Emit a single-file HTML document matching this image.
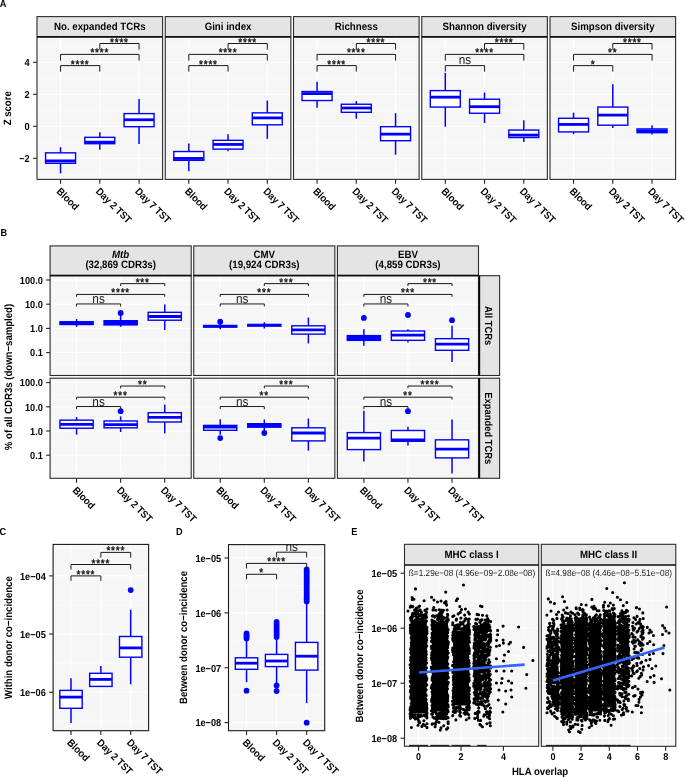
<!DOCTYPE html>
<html><head><meta charset="utf-8"><style>
html,body{margin:0;padding:0;background:#fff;}
svg{display:block;font-family:"Liberation Sans", sans-serif;text-rendering:geometricPrecision;will-change:transform;}
</style></head><body>
<svg width="685" height="777" viewBox="0 0 685 777">
<rect width="685" height="777" fill="#fff"/>
<text x="0" y="0" transform="translate(-0.3,6.7) scale(1,1.1)" font-size="9.2" font-weight="bold" text-anchor="start" fill="#000">A</text>
<rect x="37" y="37.7" width="125.6" height="141.7" fill="#f6f6f6"/>
<line x1="37" y1="174.3" x2="162.6" y2="174.3" stroke="#fff" stroke-width="0.5"/>
<line x1="37" y1="142.3" x2="162.6" y2="142.3" stroke="#fff" stroke-width="0.5"/>
<line x1="37" y1="110.3" x2="162.6" y2="110.3" stroke="#fff" stroke-width="0.5"/>
<line x1="37" y1="78.3" x2="162.6" y2="78.3" stroke="#fff" stroke-width="0.5"/>
<line x1="37" y1="46.3" x2="162.6" y2="46.3" stroke="#fff" stroke-width="0.5"/>
<line x1="37" y1="158.3" x2="162.6" y2="158.3" stroke="#fff" stroke-width="1"/>
<line x1="37" y1="126.3" x2="162.6" y2="126.3" stroke="#fff" stroke-width="1"/>
<line x1="37" y1="94.3" x2="162.6" y2="94.3" stroke="#fff" stroke-width="1"/>
<line x1="37" y1="62.3" x2="162.6" y2="62.3" stroke="#fff" stroke-width="1"/>
<line x1="60.55" y1="37.7" x2="60.55" y2="179.4" stroke="#fff" stroke-width="1"/>
<line x1="99.8" y1="37.7" x2="99.8" y2="179.4" stroke="#fff" stroke-width="1"/>
<line x1="139.05" y1="37.7" x2="139.05" y2="179.4" stroke="#fff" stroke-width="1"/>
<rect x="37" y="16.6" width="125.6" height="20.3" fill="#e4e4e4"/>
<text x="0" y="0" transform="translate(99.8,29.9) scale(1,1.1)" font-size="9.7" font-weight="bold" text-anchor="middle" fill="#000">No. expanded TCRs</text>
<line x1="60.55" y1="147.24" x2="60.55" y2="152.84" stroke="#0000ff" stroke-width="1.5"/>
<line x1="60.55" y1="163.31" x2="60.55" y2="173.4" stroke="#0000ff" stroke-width="1.5"/>
<rect x="45.55" y="152.84" width="30" height="10.46" fill="#fff" stroke="#0000ff" stroke-width="1.4"/>
<line x1="45.55" y1="160.88" x2="75.55" y2="160.88" stroke="#0000ff" stroke-width="2.8"/>
<line x1="99.8" y1="132.29" x2="99.8" y2="137.34" stroke="#0000ff" stroke-width="1.5"/>
<line x1="99.8" y1="143.69" x2="99.8" y2="149.67" stroke="#0000ff" stroke-width="1.5"/>
<rect x="84.8" y="137.34" width="30" height="6.35" fill="#fff" stroke="#0000ff" stroke-width="1.4"/>
<line x1="84.8" y1="142.19" x2="114.8" y2="142.19" stroke="#0000ff" stroke-width="2.8"/>
<line x1="139.05" y1="99.03" x2="139.05" y2="113.61" stroke="#0000ff" stroke-width="1.5"/>
<line x1="139.05" y1="126.69" x2="139.05" y2="143.88" stroke="#0000ff" stroke-width="1.5"/>
<rect x="124.05" y="113.61" width="30" height="13.08" fill="#fff" stroke="#0000ff" stroke-width="1.4"/>
<line x1="124.05" y1="119.77" x2="154.05" y2="119.77" stroke="#0000ff" stroke-width="2.8"/>
<clipPath id="c1"><rect x="37" y="37.7" width="125.6" height="141.7"/></clipPath><g clip-path="url(#c1)">
<path d="M60.55,71.6V65.6H99.8V71.6" fill="none" stroke="#1a1a1a" stroke-width="1"/>
<text x="0" y="0" transform="translate(80.17,67.6) scale(1,1.1)" font-size="10" font-weight="normal" text-anchor="middle" fill="#1a1a1a" letter-spacing="0.8" stroke="#1a1a1a" stroke-width="0.4">****</text>
<path d="M60.55,60.6V54.4H139.05V60.6" fill="none" stroke="#1a1a1a" stroke-width="1"/>
<text x="0" y="0" transform="translate(99.8,56.4) scale(1,1.1)" font-size="10" font-weight="normal" text-anchor="middle" fill="#1a1a1a" letter-spacing="0.8" stroke="#1a1a1a" stroke-width="0.4">****</text>
<path d="M99.8,49.7V43.5H139.05V49.7" fill="none" stroke="#1a1a1a" stroke-width="1"/>
<text x="0" y="0" transform="translate(119.42,45.5) scale(1,1.1)" font-size="10" font-weight="normal" text-anchor="middle" fill="#1a1a1a" letter-spacing="0.8" stroke="#1a1a1a" stroke-width="0.4">****</text>
</g>
<rect x="37" y="16.6" width="125.6" height="162.8" fill="none" stroke="#2b2b2b" stroke-width="1.1"/>
<line x1="37" y1="36.8" x2="162.6" y2="36.8" stroke="#0a0a0a" stroke-width="1.8"/>
<line x1="60.55" y1="179.4" x2="60.55" y2="183.8" stroke="#222222" stroke-width="1.1"/>
<line x1="99.8" y1="179.4" x2="99.8" y2="183.8" stroke="#222222" stroke-width="1.1"/>
<line x1="139.05" y1="179.4" x2="139.05" y2="183.8" stroke="#222222" stroke-width="1.1"/>
<text x="0" y="0" transform="translate(56.05,192) rotate(45) scale(1,1.1)" font-size="9.4" font-weight="bold" text-anchor="start" fill="#000">Blood</text>
<text x="0" y="0" transform="translate(95.3,192) rotate(45) scale(1,1.1)" font-size="9.4" font-weight="bold" text-anchor="start" fill="#000">Day 2 TST</text>
<text x="0" y="0" transform="translate(134.55,192) rotate(45) scale(1,1.1)" font-size="9.4" font-weight="bold" text-anchor="start" fill="#000">Day 7 TST</text>
<rect x="165.25" y="37.7" width="125.6" height="141.7" fill="#f6f6f6"/>
<line x1="165.25" y1="174.3" x2="290.85" y2="174.3" stroke="#fff" stroke-width="0.5"/>
<line x1="165.25" y1="142.3" x2="290.85" y2="142.3" stroke="#fff" stroke-width="0.5"/>
<line x1="165.25" y1="110.3" x2="290.85" y2="110.3" stroke="#fff" stroke-width="0.5"/>
<line x1="165.25" y1="78.3" x2="290.85" y2="78.3" stroke="#fff" stroke-width="0.5"/>
<line x1="165.25" y1="46.3" x2="290.85" y2="46.3" stroke="#fff" stroke-width="0.5"/>
<line x1="165.25" y1="158.3" x2="290.85" y2="158.3" stroke="#fff" stroke-width="1"/>
<line x1="165.25" y1="126.3" x2="290.85" y2="126.3" stroke="#fff" stroke-width="1"/>
<line x1="165.25" y1="94.3" x2="290.85" y2="94.3" stroke="#fff" stroke-width="1"/>
<line x1="165.25" y1="62.3" x2="290.85" y2="62.3" stroke="#fff" stroke-width="1"/>
<line x1="188.8" y1="37.7" x2="188.8" y2="179.4" stroke="#fff" stroke-width="1"/>
<line x1="228.05" y1="37.7" x2="228.05" y2="179.4" stroke="#fff" stroke-width="1"/>
<line x1="267.3" y1="37.7" x2="267.3" y2="179.4" stroke="#fff" stroke-width="1"/>
<rect x="165.25" y="16.6" width="125.6" height="20.3" fill="#e4e4e4"/>
<text x="0" y="0" transform="translate(228.05,29.9) scale(1,1.1)" font-size="9.7" font-weight="bold" text-anchor="middle" fill="#000">Gini index</text>
<line x1="188.8" y1="143.5" x2="188.8" y2="151.54" stroke="#0000ff" stroke-width="1.5"/>
<line x1="188.8" y1="160.32" x2="188.8" y2="171.16" stroke="#0000ff" stroke-width="1.5"/>
<rect x="173.8" y="151.54" width="30" height="8.78" fill="#fff" stroke="#0000ff" stroke-width="1.4"/>
<line x1="173.8" y1="158.45" x2="203.8" y2="158.45" stroke="#0000ff" stroke-width="2.8"/>
<line x1="228.05" y1="134.16" x2="228.05" y2="140.33" stroke="#0000ff" stroke-width="1.5"/>
<line x1="228.05" y1="149.11" x2="228.05" y2="151.35" stroke="#0000ff" stroke-width="1.5"/>
<rect x="213.05" y="140.33" width="30" height="8.78" fill="#fff" stroke="#0000ff" stroke-width="1.4"/>
<line x1="213.05" y1="144.44" x2="243.05" y2="144.44" stroke="#0000ff" stroke-width="2.8"/>
<line x1="267.3" y1="100.53" x2="267.3" y2="112.86" stroke="#0000ff" stroke-width="1.5"/>
<line x1="267.3" y1="124.82" x2="267.3" y2="138.83" stroke="#0000ff" stroke-width="1.5"/>
<rect x="252.3" y="112.86" width="30" height="11.96" fill="#fff" stroke="#0000ff" stroke-width="1.4"/>
<line x1="252.3" y1="117.9" x2="282.3" y2="117.9" stroke="#0000ff" stroke-width="2.8"/>
<clipPath id="c2"><rect x="165.25" y="37.7" width="125.6" height="141.7"/></clipPath><g clip-path="url(#c2)">
<path d="M188.8,71.6V65.6H228.05V71.6" fill="none" stroke="#1a1a1a" stroke-width="1"/>
<text x="0" y="0" transform="translate(208.42,67.6) scale(1,1.1)" font-size="10" font-weight="normal" text-anchor="middle" fill="#1a1a1a" letter-spacing="0.8" stroke="#1a1a1a" stroke-width="0.4">****</text>
<path d="M188.8,60.6V54.4H267.3V60.6" fill="none" stroke="#1a1a1a" stroke-width="1"/>
<text x="0" y="0" transform="translate(228.05,56.4) scale(1,1.1)" font-size="10" font-weight="normal" text-anchor="middle" fill="#1a1a1a" letter-spacing="0.8" stroke="#1a1a1a" stroke-width="0.4">****</text>
<path d="M228.05,49.7V43.5H267.3V49.7" fill="none" stroke="#1a1a1a" stroke-width="1"/>
<text x="0" y="0" transform="translate(247.67,45.5) scale(1,1.1)" font-size="10" font-weight="normal" text-anchor="middle" fill="#1a1a1a" letter-spacing="0.8" stroke="#1a1a1a" stroke-width="0.4">****</text>
</g>
<rect x="165.25" y="16.6" width="125.6" height="162.8" fill="none" stroke="#2b2b2b" stroke-width="1.1"/>
<line x1="165.25" y1="36.8" x2="290.85" y2="36.8" stroke="#0a0a0a" stroke-width="1.8"/>
<line x1="188.8" y1="179.4" x2="188.8" y2="183.8" stroke="#222222" stroke-width="1.1"/>
<line x1="228.05" y1="179.4" x2="228.05" y2="183.8" stroke="#222222" stroke-width="1.1"/>
<line x1="267.3" y1="179.4" x2="267.3" y2="183.8" stroke="#222222" stroke-width="1.1"/>
<text x="0" y="0" transform="translate(184.3,192) rotate(45) scale(1,1.1)" font-size="9.4" font-weight="bold" text-anchor="start" fill="#000">Blood</text>
<text x="0" y="0" transform="translate(223.55,192) rotate(45) scale(1,1.1)" font-size="9.4" font-weight="bold" text-anchor="start" fill="#000">Day 2 TST</text>
<text x="0" y="0" transform="translate(262.8,192) rotate(45) scale(1,1.1)" font-size="9.4" font-weight="bold" text-anchor="start" fill="#000">Day 7 TST</text>
<rect x="293.5" y="37.7" width="125.6" height="141.7" fill="#f6f6f6"/>
<line x1="293.5" y1="174.3" x2="419.1" y2="174.3" stroke="#fff" stroke-width="0.5"/>
<line x1="293.5" y1="142.3" x2="419.1" y2="142.3" stroke="#fff" stroke-width="0.5"/>
<line x1="293.5" y1="110.3" x2="419.1" y2="110.3" stroke="#fff" stroke-width="0.5"/>
<line x1="293.5" y1="78.3" x2="419.1" y2="78.3" stroke="#fff" stroke-width="0.5"/>
<line x1="293.5" y1="46.3" x2="419.1" y2="46.3" stroke="#fff" stroke-width="0.5"/>
<line x1="293.5" y1="158.3" x2="419.1" y2="158.3" stroke="#fff" stroke-width="1"/>
<line x1="293.5" y1="126.3" x2="419.1" y2="126.3" stroke="#fff" stroke-width="1"/>
<line x1="293.5" y1="94.3" x2="419.1" y2="94.3" stroke="#fff" stroke-width="1"/>
<line x1="293.5" y1="62.3" x2="419.1" y2="62.3" stroke="#fff" stroke-width="1"/>
<line x1="317.05" y1="37.7" x2="317.05" y2="179.4" stroke="#fff" stroke-width="1"/>
<line x1="356.3" y1="37.7" x2="356.3" y2="179.4" stroke="#fff" stroke-width="1"/>
<line x1="395.55" y1="37.7" x2="395.55" y2="179.4" stroke="#fff" stroke-width="1"/>
<rect x="293.5" y="16.6" width="125.6" height="20.3" fill="#e4e4e4"/>
<text x="0" y="0" transform="translate(356.3,29.9) scale(1,1.1)" font-size="9.7" font-weight="bold" text-anchor="middle" fill="#000">Richness</text>
<line x1="317.05" y1="81.84" x2="317.05" y2="91.56" stroke="#0000ff" stroke-width="1.5"/>
<line x1="317.05" y1="100.53" x2="317.05" y2="107.63" stroke="#0000ff" stroke-width="1.5"/>
<rect x="302.05" y="91.56" width="30" height="8.97" fill="#fff" stroke="#0000ff" stroke-width="1.4"/>
<line x1="302.05" y1="93.61" x2="332.05" y2="93.61" stroke="#0000ff" stroke-width="2.8"/>
<line x1="356.3" y1="101.09" x2="356.3" y2="104.26" stroke="#0000ff" stroke-width="1.5"/>
<line x1="356.3" y1="112.3" x2="356.3" y2="118.65" stroke="#0000ff" stroke-width="1.5"/>
<rect x="341.3" y="104.26" width="30" height="8.03" fill="#fff" stroke="#0000ff" stroke-width="1.4"/>
<line x1="341.3" y1="108" x2="371.3" y2="108" stroke="#0000ff" stroke-width="2.8"/>
<line x1="395.55" y1="113.23" x2="395.55" y2="126.69" stroke="#0000ff" stroke-width="1.5"/>
<line x1="395.55" y1="140.7" x2="395.55" y2="154.71" stroke="#0000ff" stroke-width="1.5"/>
<rect x="380.55" y="126.69" width="30" height="14.01" fill="#fff" stroke="#0000ff" stroke-width="1.4"/>
<line x1="380.55" y1="134.16" x2="410.55" y2="134.16" stroke="#0000ff" stroke-width="2.8"/>
<clipPath id="c3"><rect x="293.5" y="37.7" width="125.6" height="141.7"/></clipPath><g clip-path="url(#c3)">
<path d="M317.05,71.6V65.6H356.3V71.6" fill="none" stroke="#1a1a1a" stroke-width="1"/>
<text x="0" y="0" transform="translate(336.68,67.6) scale(1,1.1)" font-size="10" font-weight="normal" text-anchor="middle" fill="#1a1a1a" letter-spacing="0.8" stroke="#1a1a1a" stroke-width="0.4">****</text>
<path d="M317.05,60.6V54.4H395.55V60.6" fill="none" stroke="#1a1a1a" stroke-width="1"/>
<text x="0" y="0" transform="translate(356.3,56.4) scale(1,1.1)" font-size="10" font-weight="normal" text-anchor="middle" fill="#1a1a1a" letter-spacing="0.8" stroke="#1a1a1a" stroke-width="0.4">****</text>
<path d="M356.3,49.7V43.5H395.55V49.7" fill="none" stroke="#1a1a1a" stroke-width="1"/>
<text x="0" y="0" transform="translate(375.92,45.5) scale(1,1.1)" font-size="10" font-weight="normal" text-anchor="middle" fill="#1a1a1a" letter-spacing="0.8" stroke="#1a1a1a" stroke-width="0.4">****</text>
</g>
<rect x="293.5" y="16.6" width="125.6" height="162.8" fill="none" stroke="#2b2b2b" stroke-width="1.1"/>
<line x1="293.5" y1="36.8" x2="419.1" y2="36.8" stroke="#0a0a0a" stroke-width="1.8"/>
<line x1="317.05" y1="179.4" x2="317.05" y2="183.8" stroke="#222222" stroke-width="1.1"/>
<line x1="356.3" y1="179.4" x2="356.3" y2="183.8" stroke="#222222" stroke-width="1.1"/>
<line x1="395.55" y1="179.4" x2="395.55" y2="183.8" stroke="#222222" stroke-width="1.1"/>
<text x="0" y="0" transform="translate(312.55,192) rotate(45) scale(1,1.1)" font-size="9.4" font-weight="bold" text-anchor="start" fill="#000">Blood</text>
<text x="0" y="0" transform="translate(351.8,192) rotate(45) scale(1,1.1)" font-size="9.4" font-weight="bold" text-anchor="start" fill="#000">Day 2 TST</text>
<text x="0" y="0" transform="translate(391.05,192) rotate(45) scale(1,1.1)" font-size="9.4" font-weight="bold" text-anchor="start" fill="#000">Day 7 TST</text>
<rect x="421.75" y="37.7" width="125.6" height="141.7" fill="#f6f6f6"/>
<line x1="421.75" y1="174.3" x2="547.35" y2="174.3" stroke="#fff" stroke-width="0.5"/>
<line x1="421.75" y1="142.3" x2="547.35" y2="142.3" stroke="#fff" stroke-width="0.5"/>
<line x1="421.75" y1="110.3" x2="547.35" y2="110.3" stroke="#fff" stroke-width="0.5"/>
<line x1="421.75" y1="78.3" x2="547.35" y2="78.3" stroke="#fff" stroke-width="0.5"/>
<line x1="421.75" y1="46.3" x2="547.35" y2="46.3" stroke="#fff" stroke-width="0.5"/>
<line x1="421.75" y1="158.3" x2="547.35" y2="158.3" stroke="#fff" stroke-width="1"/>
<line x1="421.75" y1="126.3" x2="547.35" y2="126.3" stroke="#fff" stroke-width="1"/>
<line x1="421.75" y1="94.3" x2="547.35" y2="94.3" stroke="#fff" stroke-width="1"/>
<line x1="421.75" y1="62.3" x2="547.35" y2="62.3" stroke="#fff" stroke-width="1"/>
<line x1="445.3" y1="37.7" x2="445.3" y2="179.4" stroke="#fff" stroke-width="1"/>
<line x1="484.55" y1="37.7" x2="484.55" y2="179.4" stroke="#fff" stroke-width="1"/>
<line x1="523.8" y1="37.7" x2="523.8" y2="179.4" stroke="#fff" stroke-width="1"/>
<rect x="421.75" y="16.6" width="125.6" height="20.3" fill="#e4e4e4"/>
<text x="0" y="0" transform="translate(484.55,29.9) scale(1,1.1)" font-size="9.7" font-weight="bold" text-anchor="middle" fill="#000">Shannon diversity</text>
<line x1="445.3" y1="72.87" x2="445.3" y2="90.62" stroke="#0000ff" stroke-width="1.5"/>
<line x1="445.3" y1="107.07" x2="445.3" y2="126.69" stroke="#0000ff" stroke-width="1.5"/>
<rect x="430.3" y="90.62" width="30" height="16.44" fill="#fff" stroke="#0000ff" stroke-width="1.4"/>
<line x1="430.3" y1="97.16" x2="460.3" y2="97.16" stroke="#0000ff" stroke-width="2.8"/>
<line x1="484.55" y1="92.49" x2="484.55" y2="99.22" stroke="#0000ff" stroke-width="1.5"/>
<line x1="484.55" y1="113.23" x2="484.55" y2="122.95" stroke="#0000ff" stroke-width="1.5"/>
<rect x="469.55" y="99.22" width="30" height="14.01" fill="#fff" stroke="#0000ff" stroke-width="1.4"/>
<line x1="469.55" y1="106.69" x2="499.55" y2="106.69" stroke="#0000ff" stroke-width="2.8"/>
<line x1="523.8" y1="120.15" x2="523.8" y2="130.05" stroke="#0000ff" stroke-width="1.5"/>
<line x1="523.8" y1="137.52" x2="523.8" y2="142.01" stroke="#0000ff" stroke-width="1.5"/>
<rect x="508.8" y="130.05" width="30" height="7.47" fill="#fff" stroke="#0000ff" stroke-width="1.4"/>
<line x1="508.8" y1="135.09" x2="538.8" y2="135.09" stroke="#0000ff" stroke-width="2.8"/>
<clipPath id="c4"><rect x="421.75" y="37.7" width="125.6" height="141.7"/></clipPath><g clip-path="url(#c4)">
<path d="M445.3,71.6V65.6H484.55V71.6" fill="none" stroke="#1a1a1a" stroke-width="1"/>
<text x="0" y="0" transform="translate(464.93,64) scale(1,1.1)" font-size="11.8" font-weight="normal" text-anchor="middle" fill="#1a1a1a">ns</text>
<path d="M445.3,60.6V54.4H523.8V60.6" fill="none" stroke="#1a1a1a" stroke-width="1"/>
<text x="0" y="0" transform="translate(484.55,56.4) scale(1,1.1)" font-size="10" font-weight="normal" text-anchor="middle" fill="#1a1a1a" letter-spacing="0.8" stroke="#1a1a1a" stroke-width="0.4">****</text>
<path d="M484.55,49.7V43.5H523.8V49.7" fill="none" stroke="#1a1a1a" stroke-width="1"/>
<text x="0" y="0" transform="translate(504.17,45.5) scale(1,1.1)" font-size="10" font-weight="normal" text-anchor="middle" fill="#1a1a1a" letter-spacing="0.8" stroke="#1a1a1a" stroke-width="0.4">****</text>
</g>
<rect x="421.75" y="16.6" width="125.6" height="162.8" fill="none" stroke="#2b2b2b" stroke-width="1.1"/>
<line x1="421.75" y1="36.8" x2="547.35" y2="36.8" stroke="#0a0a0a" stroke-width="1.8"/>
<line x1="445.3" y1="179.4" x2="445.3" y2="183.8" stroke="#222222" stroke-width="1.1"/>
<line x1="484.55" y1="179.4" x2="484.55" y2="183.8" stroke="#222222" stroke-width="1.1"/>
<line x1="523.8" y1="179.4" x2="523.8" y2="183.8" stroke="#222222" stroke-width="1.1"/>
<text x="0" y="0" transform="translate(440.8,192) rotate(45) scale(1,1.1)" font-size="9.4" font-weight="bold" text-anchor="start" fill="#000">Blood</text>
<text x="0" y="0" transform="translate(480.05,192) rotate(45) scale(1,1.1)" font-size="9.4" font-weight="bold" text-anchor="start" fill="#000">Day 2 TST</text>
<text x="0" y="0" transform="translate(519.3,192) rotate(45) scale(1,1.1)" font-size="9.4" font-weight="bold" text-anchor="start" fill="#000">Day 7 TST</text>
<rect x="550" y="37.7" width="125.6" height="141.7" fill="#f6f6f6"/>
<line x1="550" y1="174.3" x2="675.6" y2="174.3" stroke="#fff" stroke-width="0.5"/>
<line x1="550" y1="142.3" x2="675.6" y2="142.3" stroke="#fff" stroke-width="0.5"/>
<line x1="550" y1="110.3" x2="675.6" y2="110.3" stroke="#fff" stroke-width="0.5"/>
<line x1="550" y1="78.3" x2="675.6" y2="78.3" stroke="#fff" stroke-width="0.5"/>
<line x1="550" y1="46.3" x2="675.6" y2="46.3" stroke="#fff" stroke-width="0.5"/>
<line x1="550" y1="158.3" x2="675.6" y2="158.3" stroke="#fff" stroke-width="1"/>
<line x1="550" y1="126.3" x2="675.6" y2="126.3" stroke="#fff" stroke-width="1"/>
<line x1="550" y1="94.3" x2="675.6" y2="94.3" stroke="#fff" stroke-width="1"/>
<line x1="550" y1="62.3" x2="675.6" y2="62.3" stroke="#fff" stroke-width="1"/>
<line x1="573.55" y1="37.7" x2="573.55" y2="179.4" stroke="#fff" stroke-width="1"/>
<line x1="612.8" y1="37.7" x2="612.8" y2="179.4" stroke="#fff" stroke-width="1"/>
<line x1="652.05" y1="37.7" x2="652.05" y2="179.4" stroke="#fff" stroke-width="1"/>
<rect x="550" y="16.6" width="125.6" height="20.3" fill="#e4e4e4"/>
<text x="0" y="0" transform="translate(612.8,29.9) scale(1,1.1)" font-size="9.7" font-weight="bold" text-anchor="middle" fill="#000">Simpson diversity</text>
<line x1="573.55" y1="112.67" x2="573.55" y2="118.28" stroke="#0000ff" stroke-width="1.5"/>
<line x1="573.55" y1="131.92" x2="573.55" y2="134.16" stroke="#0000ff" stroke-width="1.5"/>
<rect x="558.55" y="118.28" width="30" height="13.64" fill="#fff" stroke="#0000ff" stroke-width="1.4"/>
<line x1="558.55" y1="124.44" x2="588.55" y2="124.44" stroke="#0000ff" stroke-width="2.8"/>
<line x1="612.8" y1="84.27" x2="612.8" y2="107.07" stroke="#0000ff" stroke-width="1.5"/>
<line x1="612.8" y1="125.19" x2="612.8" y2="127.99" stroke="#0000ff" stroke-width="1.5"/>
<rect x="597.8" y="107.07" width="30" height="18.12" fill="#fff" stroke="#0000ff" stroke-width="1.4"/>
<line x1="597.8" y1="115.1" x2="627.8" y2="115.1" stroke="#0000ff" stroke-width="2.8"/>
<line x1="652.05" y1="125.19" x2="652.05" y2="128.93" stroke="#0000ff" stroke-width="1.5"/>
<line x1="652.05" y1="132.67" x2="652.05" y2="134.53" stroke="#0000ff" stroke-width="1.5"/>
<rect x="637.05" y="128.93" width="30" height="3.74" fill="#fff" stroke="#0000ff" stroke-width="1.4"/>
<line x1="637.05" y1="130.8" x2="667.05" y2="130.8" stroke="#0000ff" stroke-width="2.8"/>
<clipPath id="c5"><rect x="550" y="37.7" width="125.6" height="141.7"/></clipPath><g clip-path="url(#c5)">
<path d="M573.55,71.6V65.6H612.8V71.6" fill="none" stroke="#1a1a1a" stroke-width="1"/>
<text x="0" y="0" transform="translate(593.17,67.6) scale(1,1.1)" font-size="10" font-weight="normal" text-anchor="middle" fill="#1a1a1a" letter-spacing="0.8" stroke="#1a1a1a" stroke-width="0.4">*</text>
<path d="M573.55,60.6V54.4H652.05V60.6" fill="none" stroke="#1a1a1a" stroke-width="1"/>
<text x="0" y="0" transform="translate(612.8,56.4) scale(1,1.1)" font-size="10" font-weight="normal" text-anchor="middle" fill="#1a1a1a" letter-spacing="0.8" stroke="#1a1a1a" stroke-width="0.4">**</text>
<path d="M612.8,49.7V43.5H652.05V49.7" fill="none" stroke="#1a1a1a" stroke-width="1"/>
<text x="0" y="0" transform="translate(632.42,45.5) scale(1,1.1)" font-size="10" font-weight="normal" text-anchor="middle" fill="#1a1a1a" letter-spacing="0.8" stroke="#1a1a1a" stroke-width="0.4">****</text>
</g>
<rect x="550" y="16.6" width="125.6" height="162.8" fill="none" stroke="#2b2b2b" stroke-width="1.1"/>
<line x1="550" y1="36.8" x2="675.6" y2="36.8" stroke="#0a0a0a" stroke-width="1.8"/>
<line x1="573.55" y1="179.4" x2="573.55" y2="183.8" stroke="#222222" stroke-width="1.1"/>
<line x1="612.8" y1="179.4" x2="612.8" y2="183.8" stroke="#222222" stroke-width="1.1"/>
<line x1="652.05" y1="179.4" x2="652.05" y2="183.8" stroke="#222222" stroke-width="1.1"/>
<text x="0" y="0" transform="translate(569.05,192) rotate(45) scale(1,1.1)" font-size="9.4" font-weight="bold" text-anchor="start" fill="#000">Blood</text>
<text x="0" y="0" transform="translate(608.3,192) rotate(45) scale(1,1.1)" font-size="9.4" font-weight="bold" text-anchor="start" fill="#000">Day 2 TST</text>
<text x="0" y="0" transform="translate(647.55,192) rotate(45) scale(1,1.1)" font-size="9.4" font-weight="bold" text-anchor="start" fill="#000">Day 7 TST</text>
<line x1="33" y1="158.3" x2="37" y2="158.3" stroke="#222222" stroke-width="1.1"/>
<text x="0" y="0" transform="translate(29.7,162.18) scale(1,1.1)" font-size="9.2" font-weight="bold" text-anchor="end" fill="#000">−2</text>
<line x1="33" y1="126.3" x2="37" y2="126.3" stroke="#222222" stroke-width="1.1"/>
<text x="0" y="0" transform="translate(29.7,130.18) scale(1,1.1)" font-size="9.2" font-weight="bold" text-anchor="end" fill="#000">0</text>
<line x1="33" y1="94.3" x2="37" y2="94.3" stroke="#222222" stroke-width="1.1"/>
<text x="0" y="0" transform="translate(29.7,98.18) scale(1,1.1)" font-size="9.2" font-weight="bold" text-anchor="end" fill="#000">2</text>
<line x1="33" y1="62.3" x2="37" y2="62.3" stroke="#222222" stroke-width="1.1"/>
<text x="0" y="0" transform="translate(29.7,66.18) scale(1,1.1)" font-size="9.2" font-weight="bold" text-anchor="end" fill="#000">4</text>
<text x="0" y="0" transform="translate(11.3,108.3) rotate(-90) scale(1,1.1)" font-size="9.6" font-weight="bold" text-anchor="middle" fill="#000">Z score</text>
<text x="0" y="0" transform="translate(0.4,236.2) scale(1,1.1)" font-size="9.2" font-weight="bold" text-anchor="start" fill="#000">B</text>
<rect x="50.1" y="275.7" width="141.1" height="99.8" fill="#f6f6f6"/>
<line x1="50.1" y1="292.1" x2="191.2" y2="292.1" stroke="#fff" stroke-width="0.5"/>
<line x1="50.1" y1="316.3" x2="191.2" y2="316.3" stroke="#fff" stroke-width="0.5"/>
<line x1="50.1" y1="340.5" x2="191.2" y2="340.5" stroke="#fff" stroke-width="0.5"/>
<line x1="50.1" y1="364.7" x2="191.2" y2="364.7" stroke="#fff" stroke-width="0.5"/>
<line x1="50.1" y1="280" x2="191.2" y2="280" stroke="#fff" stroke-width="1"/>
<line x1="50.1" y1="304.2" x2="191.2" y2="304.2" stroke="#fff" stroke-width="1"/>
<line x1="50.1" y1="328.4" x2="191.2" y2="328.4" stroke="#fff" stroke-width="1"/>
<line x1="50.1" y1="352.6" x2="191.2" y2="352.6" stroke="#fff" stroke-width="1"/>
<line x1="76.56" y1="275.7" x2="76.56" y2="375.5" stroke="#fff" stroke-width="1"/>
<line x1="120.65" y1="275.7" x2="120.65" y2="375.5" stroke="#fff" stroke-width="1"/>
<line x1="164.74" y1="275.7" x2="164.74" y2="375.5" stroke="#fff" stroke-width="1"/>
<line x1="76.56" y1="318.97" x2="76.56" y2="326.85" stroke="#0000ff" stroke-width="1.5"/>
<rect x="59.26" y="321.04" width="34.6" height="4.15" fill="#0000ff"/>
<line x1="120.65" y1="315.02" x2="120.65" y2="326.85" stroke="#0000ff" stroke-width="1.5"/>
<rect x="103.35" y="320" width="34.6" height="5.6" fill="#0000ff"/>
<circle cx="120.65" cy="312.95" r="2.9" fill="#0000ff"/>
<line x1="164.74" y1="304.45" x2="164.74" y2="312.33" stroke="#0000ff" stroke-width="1.5"/>
<line x1="164.74" y1="320.21" x2="164.74" y2="329.96" stroke="#0000ff" stroke-width="1.5"/>
<rect x="148.14" y="312.33" width="33.2" height="7.88" fill="#fff" stroke="#0000ff" stroke-width="1.4"/>
<line x1="148.14" y1="316.48" x2="181.34" y2="316.48" stroke="#0000ff" stroke-width="2.8"/>
<path d="M76.56,306.54V303.94H120.65V306.54" fill="none" stroke="#1a1a1a" stroke-width="1"/>
<text x="0" y="0" transform="translate(98.6,302.74) scale(1,1.1)" font-size="11.8" font-weight="normal" text-anchor="middle" fill="#1a1a1a">ns</text>
<path d="M76.56,296.81V294.41H164.74V296.81" fill="none" stroke="#1a1a1a" stroke-width="1"/>
<text x="0" y="0" transform="translate(120.65,296.41) scale(1,1.1)" font-size="10" font-weight="normal" text-anchor="middle" fill="#1a1a1a" letter-spacing="0.8" stroke="#1a1a1a" stroke-width="0.4">****</text>
<path d="M120.65,286.02V283.62H164.74V286.02" fill="none" stroke="#1a1a1a" stroke-width="1"/>
<text x="0" y="0" transform="translate(142.7,285.62) scale(1,1.1)" font-size="10" font-weight="normal" text-anchor="middle" fill="#1a1a1a" letter-spacing="0.8" stroke="#1a1a1a" stroke-width="0.4">***</text>
<rect x="50.1" y="275.7" width="141.1" height="99.8" fill="none" stroke="#2b2b2b" stroke-width="1.1"/>
<rect x="50.1" y="378.2" width="141.1" height="100.1" fill="#f6f6f6"/>
<line x1="50.1" y1="394.7" x2="191.2" y2="394.7" stroke="#fff" stroke-width="0.5"/>
<line x1="50.1" y1="418.9" x2="191.2" y2="418.9" stroke="#fff" stroke-width="0.5"/>
<line x1="50.1" y1="443.1" x2="191.2" y2="443.1" stroke="#fff" stroke-width="0.5"/>
<line x1="50.1" y1="467.3" x2="191.2" y2="467.3" stroke="#fff" stroke-width="0.5"/>
<line x1="50.1" y1="382.6" x2="191.2" y2="382.6" stroke="#fff" stroke-width="1"/>
<line x1="50.1" y1="406.8" x2="191.2" y2="406.8" stroke="#fff" stroke-width="1"/>
<line x1="50.1" y1="431" x2="191.2" y2="431" stroke="#fff" stroke-width="1"/>
<line x1="50.1" y1="455.2" x2="191.2" y2="455.2" stroke="#fff" stroke-width="1"/>
<line x1="76.56" y1="378.2" x2="76.56" y2="478.3" stroke="#fff" stroke-width="1"/>
<line x1="120.65" y1="378.2" x2="120.65" y2="478.3" stroke="#fff" stroke-width="1"/>
<line x1="164.74" y1="378.2" x2="164.74" y2="478.3" stroke="#fff" stroke-width="1"/>
<line x1="76.56" y1="417.02" x2="76.56" y2="420.14" stroke="#0000ff" stroke-width="1.5"/>
<line x1="76.56" y1="428.22" x2="76.56" y2="434.65" stroke="#0000ff" stroke-width="1.5"/>
<rect x="59.96" y="420.14" width="33.2" height="8.09" fill="#fff" stroke="#0000ff" stroke-width="1.4"/>
<line x1="59.96" y1="424.28" x2="93.16" y2="424.28" stroke="#0000ff" stroke-width="2.8"/>
<line x1="120.65" y1="416.4" x2="120.65" y2="420.97" stroke="#0000ff" stroke-width="1.5"/>
<line x1="120.65" y1="427.81" x2="120.65" y2="431.96" stroke="#0000ff" stroke-width="1.5"/>
<rect x="104.05" y="420.97" width="33.2" height="6.84" fill="#fff" stroke="#0000ff" stroke-width="1.4"/>
<line x1="104.05" y1="424.7" x2="137.25" y2="424.7" stroke="#0000ff" stroke-width="2.8"/>
<circle cx="120.65" cy="411.22" r="2.9" fill="#0000ff"/>
<line x1="164.74" y1="404.58" x2="164.74" y2="412.67" stroke="#0000ff" stroke-width="1.5"/>
<line x1="164.74" y1="422" x2="164.74" y2="433.41" stroke="#0000ff" stroke-width="1.5"/>
<rect x="148.14" y="412.67" width="33.2" height="9.33" fill="#fff" stroke="#0000ff" stroke-width="1.4"/>
<line x1="148.14" y1="417.44" x2="181.34" y2="417.44" stroke="#0000ff" stroke-width="2.8"/>
<path d="M76.56,409.14V406.54H120.65V409.14" fill="none" stroke="#1a1a1a" stroke-width="1"/>
<text x="0" y="0" transform="translate(98.6,405.64) scale(1,1.1)" font-size="11.8" font-weight="normal" text-anchor="middle" fill="#1a1a1a">ns</text>
<path d="M76.56,399.61V397.21H164.74V399.61" fill="none" stroke="#1a1a1a" stroke-width="1"/>
<text x="0" y="0" transform="translate(120.65,399.21) scale(1,1.1)" font-size="10" font-weight="normal" text-anchor="middle" fill="#1a1a1a" letter-spacing="0.8" stroke="#1a1a1a" stroke-width="0.4">***</text>
<path d="M120.65,388.42V386.02H164.74V388.42" fill="none" stroke="#1a1a1a" stroke-width="1"/>
<text x="0" y="0" transform="translate(142.7,388.02) scale(1,1.1)" font-size="10" font-weight="normal" text-anchor="middle" fill="#1a1a1a" letter-spacing="0.8" stroke="#1a1a1a" stroke-width="0.4">**</text>
<rect x="50.1" y="378.2" width="141.1" height="100.1" fill="none" stroke="#2b2b2b" stroke-width="1.1"/>
<rect x="50.1" y="245.9" width="141.1" height="29.6" fill="#e4e4e4" stroke="#2b2b2b" stroke-width="1.1"/>
<text x="0" y="0" transform="translate(120.65,258.4) scale(1,1.1)" font-size="9.7" font-weight="bold" text-anchor="middle" fill="#000" font-style="italic">Mtb</text>
<text x="0" y="0" transform="translate(120.65,267.5) scale(1,1.1)" font-size="9.7" font-weight="bold" text-anchor="middle" fill="#000">(32,869 CDR3s)</text>
<line x1="50.1" y1="275.5" x2="191.2" y2="275.5" stroke="#0a0a0a" stroke-width="1.5"/>
<line x1="76.56" y1="478.3" x2="76.56" y2="482.7" stroke="#222222" stroke-width="1.1"/>
<line x1="120.65" y1="478.3" x2="120.65" y2="482.7" stroke="#222222" stroke-width="1.1"/>
<line x1="164.74" y1="478.3" x2="164.74" y2="482.7" stroke="#222222" stroke-width="1.1"/>
<text x="0" y="0" transform="translate(72.06,490.9) rotate(45) scale(1,1.1)" font-size="9.4" font-weight="bold" text-anchor="start" fill="#000">Blood</text>
<text x="0" y="0" transform="translate(116.15,490.9) rotate(45) scale(1,1.1)" font-size="9.4" font-weight="bold" text-anchor="start" fill="#000">Day 2 TST</text>
<text x="0" y="0" transform="translate(160.24,490.9) rotate(45) scale(1,1.1)" font-size="9.4" font-weight="bold" text-anchor="start" fill="#000">Day 7 TST</text>
<rect x="193.75" y="275.7" width="141.1" height="99.8" fill="#f6f6f6"/>
<line x1="193.75" y1="292.1" x2="334.85" y2="292.1" stroke="#fff" stroke-width="0.5"/>
<line x1="193.75" y1="316.3" x2="334.85" y2="316.3" stroke="#fff" stroke-width="0.5"/>
<line x1="193.75" y1="340.5" x2="334.85" y2="340.5" stroke="#fff" stroke-width="0.5"/>
<line x1="193.75" y1="364.7" x2="334.85" y2="364.7" stroke="#fff" stroke-width="0.5"/>
<line x1="193.75" y1="280" x2="334.85" y2="280" stroke="#fff" stroke-width="1"/>
<line x1="193.75" y1="304.2" x2="334.85" y2="304.2" stroke="#fff" stroke-width="1"/>
<line x1="193.75" y1="328.4" x2="334.85" y2="328.4" stroke="#fff" stroke-width="1"/>
<line x1="193.75" y1="352.6" x2="334.85" y2="352.6" stroke="#fff" stroke-width="1"/>
<line x1="220.21" y1="275.7" x2="220.21" y2="375.5" stroke="#fff" stroke-width="1"/>
<line x1="264.3" y1="275.7" x2="264.3" y2="375.5" stroke="#fff" stroke-width="1"/>
<line x1="308.39" y1="275.7" x2="308.39" y2="375.5" stroke="#fff" stroke-width="1"/>
<line x1="220.21" y1="323.11" x2="220.21" y2="329.33" stroke="#0000ff" stroke-width="1.5"/>
<rect x="202.91" y="324.77" width="34.6" height="3.11" fill="#0000ff"/>
<circle cx="220.21" cy="321.66" r="2.9" fill="#0000ff"/>
<line x1="264.3" y1="322.28" x2="264.3" y2="328.5" stroke="#0000ff" stroke-width="1.5"/>
<rect x="247" y="323.73" width="34.6" height="3.11" fill="#0000ff"/>
<line x1="308.39" y1="317.51" x2="308.39" y2="325.81" stroke="#0000ff" stroke-width="1.5"/>
<line x1="308.39" y1="334.1" x2="308.39" y2="343.44" stroke="#0000ff" stroke-width="1.5"/>
<rect x="291.79" y="325.81" width="33.2" height="8.3" fill="#fff" stroke="#0000ff" stroke-width="1.4"/>
<line x1="291.79" y1="329.96" x2="324.99" y2="329.96" stroke="#0000ff" stroke-width="2.8"/>
<path d="M220.21,306.54V303.94H264.3V306.54" fill="none" stroke="#1a1a1a" stroke-width="1"/>
<text x="0" y="0" transform="translate(242.25,302.74) scale(1,1.1)" font-size="11.8" font-weight="normal" text-anchor="middle" fill="#1a1a1a">ns</text>
<path d="M220.21,296.81V294.41H308.39V296.81" fill="none" stroke="#1a1a1a" stroke-width="1"/>
<text x="0" y="0" transform="translate(264.3,296.41) scale(1,1.1)" font-size="10" font-weight="normal" text-anchor="middle" fill="#1a1a1a" letter-spacing="0.8" stroke="#1a1a1a" stroke-width="0.4">***</text>
<path d="M264.3,286.02V283.62H308.39V286.02" fill="none" stroke="#1a1a1a" stroke-width="1"/>
<text x="0" y="0" transform="translate(286.35,285.62) scale(1,1.1)" font-size="10" font-weight="normal" text-anchor="middle" fill="#1a1a1a" letter-spacing="0.8" stroke="#1a1a1a" stroke-width="0.4">***</text>
<rect x="193.75" y="275.7" width="141.1" height="99.8" fill="none" stroke="#2b2b2b" stroke-width="1.1"/>
<rect x="193.75" y="378.2" width="141.1" height="100.1" fill="#f6f6f6"/>
<line x1="193.75" y1="394.7" x2="334.85" y2="394.7" stroke="#fff" stroke-width="0.5"/>
<line x1="193.75" y1="418.9" x2="334.85" y2="418.9" stroke="#fff" stroke-width="0.5"/>
<line x1="193.75" y1="443.1" x2="334.85" y2="443.1" stroke="#fff" stroke-width="0.5"/>
<line x1="193.75" y1="467.3" x2="334.85" y2="467.3" stroke="#fff" stroke-width="0.5"/>
<line x1="193.75" y1="382.6" x2="334.85" y2="382.6" stroke="#fff" stroke-width="1"/>
<line x1="193.75" y1="406.8" x2="334.85" y2="406.8" stroke="#fff" stroke-width="1"/>
<line x1="193.75" y1="431" x2="334.85" y2="431" stroke="#fff" stroke-width="1"/>
<line x1="193.75" y1="455.2" x2="334.85" y2="455.2" stroke="#fff" stroke-width="1"/>
<line x1="220.21" y1="378.2" x2="220.21" y2="478.3" stroke="#fff" stroke-width="1"/>
<line x1="264.3" y1="378.2" x2="264.3" y2="478.3" stroke="#fff" stroke-width="1"/>
<line x1="308.39" y1="378.2" x2="308.39" y2="478.3" stroke="#fff" stroke-width="1"/>
<line x1="220.21" y1="419.31" x2="220.21" y2="425.4" stroke="#0000ff" stroke-width="1.5"/>
<line x1="220.21" y1="430.3" x2="220.21" y2="434.86" stroke="#0000ff" stroke-width="1.5"/>
<rect x="203.61" y="425.4" width="33.2" height="4.89" fill="#fff" stroke="#0000ff" stroke-width="1.4"/>
<line x1="203.61" y1="427" x2="236.81" y2="427" stroke="#0000ff" stroke-width="2.8"/>
<circle cx="220.21" cy="438.09" r="2.9" fill="#0000ff"/>
<line x1="264.3" y1="419.51" x2="264.3" y2="431.33" stroke="#0000ff" stroke-width="1.5"/>
<rect x="247" y="423" width="34.6" height="4.89" fill="#0000ff"/>
<circle cx="264.3" cy="432.99" r="2.9" fill="#0000ff"/>
<line x1="308.39" y1="418.48" x2="308.39" y2="427.81" stroke="#0000ff" stroke-width="1.5"/>
<line x1="308.39" y1="440.87" x2="308.39" y2="450.62" stroke="#0000ff" stroke-width="1.5"/>
<rect x="291.79" y="427.81" width="33.2" height="13.07" fill="#fff" stroke="#0000ff" stroke-width="1.4"/>
<line x1="291.79" y1="432.99" x2="324.99" y2="432.99" stroke="#0000ff" stroke-width="2.8"/>
<path d="M220.21,409.14V406.54H264.3V409.14" fill="none" stroke="#1a1a1a" stroke-width="1"/>
<text x="0" y="0" transform="translate(242.25,405.64) scale(1,1.1)" font-size="11.8" font-weight="normal" text-anchor="middle" fill="#1a1a1a">ns</text>
<path d="M220.21,399.61V397.21H308.39V399.61" fill="none" stroke="#1a1a1a" stroke-width="1"/>
<text x="0" y="0" transform="translate(264.3,399.21) scale(1,1.1)" font-size="10" font-weight="normal" text-anchor="middle" fill="#1a1a1a" letter-spacing="0.8" stroke="#1a1a1a" stroke-width="0.4">**</text>
<path d="M264.3,388.42V386.02H308.39V388.42" fill="none" stroke="#1a1a1a" stroke-width="1"/>
<text x="0" y="0" transform="translate(286.35,388.02) scale(1,1.1)" font-size="10" font-weight="normal" text-anchor="middle" fill="#1a1a1a" letter-spacing="0.8" stroke="#1a1a1a" stroke-width="0.4">***</text>
<rect x="193.75" y="378.2" width="141.1" height="100.1" fill="none" stroke="#2b2b2b" stroke-width="1.1"/>
<rect x="193.75" y="245.9" width="141.1" height="29.6" fill="#e4e4e4" stroke="#2b2b2b" stroke-width="1.1"/>
<text x="0" y="0" transform="translate(264.3,258.4) scale(1,1.1)" font-size="9.7" font-weight="bold" text-anchor="middle" fill="#000">CMV</text>
<text x="0" y="0" transform="translate(264.3,267.5) scale(1,1.1)" font-size="9.7" font-weight="bold" text-anchor="middle" fill="#000">(19,924 CDR3s)</text>
<line x1="193.75" y1="275.5" x2="334.85" y2="275.5" stroke="#0a0a0a" stroke-width="1.5"/>
<line x1="220.21" y1="478.3" x2="220.21" y2="482.7" stroke="#222222" stroke-width="1.1"/>
<line x1="264.3" y1="478.3" x2="264.3" y2="482.7" stroke="#222222" stroke-width="1.1"/>
<line x1="308.39" y1="478.3" x2="308.39" y2="482.7" stroke="#222222" stroke-width="1.1"/>
<text x="0" y="0" transform="translate(215.71,490.9) rotate(45) scale(1,1.1)" font-size="9.4" font-weight="bold" text-anchor="start" fill="#000">Blood</text>
<text x="0" y="0" transform="translate(259.8,490.9) rotate(45) scale(1,1.1)" font-size="9.4" font-weight="bold" text-anchor="start" fill="#000">Day 2 TST</text>
<text x="0" y="0" transform="translate(303.89,490.9) rotate(45) scale(1,1.1)" font-size="9.4" font-weight="bold" text-anchor="start" fill="#000">Day 7 TST</text>
<rect x="337.4" y="275.7" width="141.1" height="99.8" fill="#f6f6f6"/>
<line x1="337.4" y1="292.1" x2="478.5" y2="292.1" stroke="#fff" stroke-width="0.5"/>
<line x1="337.4" y1="316.3" x2="478.5" y2="316.3" stroke="#fff" stroke-width="0.5"/>
<line x1="337.4" y1="340.5" x2="478.5" y2="340.5" stroke="#fff" stroke-width="0.5"/>
<line x1="337.4" y1="364.7" x2="478.5" y2="364.7" stroke="#fff" stroke-width="0.5"/>
<line x1="337.4" y1="280" x2="478.5" y2="280" stroke="#fff" stroke-width="1"/>
<line x1="337.4" y1="304.2" x2="478.5" y2="304.2" stroke="#fff" stroke-width="1"/>
<line x1="337.4" y1="328.4" x2="478.5" y2="328.4" stroke="#fff" stroke-width="1"/>
<line x1="337.4" y1="352.6" x2="478.5" y2="352.6" stroke="#fff" stroke-width="1"/>
<line x1="363.86" y1="275.7" x2="363.86" y2="375.5" stroke="#fff" stroke-width="1"/>
<line x1="407.95" y1="275.7" x2="407.95" y2="375.5" stroke="#fff" stroke-width="1"/>
<line x1="452.04" y1="275.7" x2="452.04" y2="375.5" stroke="#fff" stroke-width="1"/>
<line x1="363.86" y1="329.13" x2="363.86" y2="345.72" stroke="#0000ff" stroke-width="1.5"/>
<rect x="346.56" y="334.93" width="34.6" height="6.12" fill="#0000ff"/>
<circle cx="363.86" cy="317.93" r="2.9" fill="#0000ff"/>
<line x1="407.95" y1="329.33" x2="407.95" y2="330.99" stroke="#0000ff" stroke-width="1.5"/>
<line x1="407.95" y1="340.33" x2="407.95" y2="342.61" stroke="#0000ff" stroke-width="1.5"/>
<rect x="391.35" y="330.99" width="33.2" height="9.33" fill="#fff" stroke="#0000ff" stroke-width="1.4"/>
<line x1="391.35" y1="335.14" x2="424.55" y2="335.14" stroke="#0000ff" stroke-width="2.8"/>
<circle cx="407.95" cy="315.02" r="2.9" fill="#0000ff"/>
<line x1="452.04" y1="325.81" x2="452.04" y2="338.67" stroke="#0000ff" stroke-width="1.5"/>
<line x1="452.04" y1="350.28" x2="452.04" y2="362.1" stroke="#0000ff" stroke-width="1.5"/>
<rect x="435.44" y="338.67" width="33.2" height="11.61" fill="#fff" stroke="#0000ff" stroke-width="1.4"/>
<line x1="435.44" y1="344.06" x2="468.64" y2="344.06" stroke="#0000ff" stroke-width="2.8"/>
<circle cx="452.04" cy="320.21" r="2.9" fill="#0000ff"/>
<path d="M363.86,306.54V303.94H407.95V306.54" fill="none" stroke="#1a1a1a" stroke-width="1"/>
<text x="0" y="0" transform="translate(385.9,302.74) scale(1,1.1)" font-size="11.8" font-weight="normal" text-anchor="middle" fill="#1a1a1a">ns</text>
<path d="M363.86,296.81V294.41H452.04V296.81" fill="none" stroke="#1a1a1a" stroke-width="1"/>
<text x="0" y="0" transform="translate(407.95,296.41) scale(1,1.1)" font-size="10" font-weight="normal" text-anchor="middle" fill="#1a1a1a" letter-spacing="0.8" stroke="#1a1a1a" stroke-width="0.4">***</text>
<path d="M407.95,286.02V283.62H452.04V286.02" fill="none" stroke="#1a1a1a" stroke-width="1"/>
<text x="0" y="0" transform="translate(430,285.62) scale(1,1.1)" font-size="10" font-weight="normal" text-anchor="middle" fill="#1a1a1a" letter-spacing="0.8" stroke="#1a1a1a" stroke-width="0.4">***</text>
<rect x="337.4" y="275.7" width="141.1" height="99.8" fill="none" stroke="#2b2b2b" stroke-width="1.1"/>
<rect x="337.4" y="378.2" width="141.1" height="100.1" fill="#f6f6f6"/>
<line x1="337.4" y1="394.7" x2="478.5" y2="394.7" stroke="#fff" stroke-width="0.5"/>
<line x1="337.4" y1="418.9" x2="478.5" y2="418.9" stroke="#fff" stroke-width="0.5"/>
<line x1="337.4" y1="443.1" x2="478.5" y2="443.1" stroke="#fff" stroke-width="0.5"/>
<line x1="337.4" y1="467.3" x2="478.5" y2="467.3" stroke="#fff" stroke-width="0.5"/>
<line x1="337.4" y1="382.6" x2="478.5" y2="382.6" stroke="#fff" stroke-width="1"/>
<line x1="337.4" y1="406.8" x2="478.5" y2="406.8" stroke="#fff" stroke-width="1"/>
<line x1="337.4" y1="431" x2="478.5" y2="431" stroke="#fff" stroke-width="1"/>
<line x1="337.4" y1="455.2" x2="478.5" y2="455.2" stroke="#fff" stroke-width="1"/>
<line x1="363.86" y1="378.2" x2="363.86" y2="478.3" stroke="#fff" stroke-width="1"/>
<line x1="407.95" y1="378.2" x2="407.95" y2="478.3" stroke="#fff" stroke-width="1"/>
<line x1="452.04" y1="378.2" x2="452.04" y2="478.3" stroke="#fff" stroke-width="1"/>
<line x1="363.86" y1="410.8" x2="363.86" y2="432.58" stroke="#0000ff" stroke-width="1.5"/>
<line x1="363.86" y1="449.58" x2="363.86" y2="461.61" stroke="#0000ff" stroke-width="1.5"/>
<rect x="347.26" y="432.58" width="33.2" height="17.01" fill="#fff" stroke="#0000ff" stroke-width="1.4"/>
<line x1="347.26" y1="438.18" x2="380.46" y2="438.18" stroke="#0000ff" stroke-width="2.8"/>
<line x1="407.95" y1="426.77" x2="407.95" y2="430.5" stroke="#0000ff" stroke-width="1.5"/>
<line x1="407.95" y1="441.29" x2="407.95" y2="445.44" stroke="#0000ff" stroke-width="1.5"/>
<rect x="391.35" y="430.5" width="33.2" height="10.78" fill="#fff" stroke="#0000ff" stroke-width="1.4"/>
<line x1="391.35" y1="439.84" x2="424.55" y2="439.84" stroke="#0000ff" stroke-width="2.8"/>
<circle cx="407.95" cy="411.22" r="2.9" fill="#0000ff"/>
<line x1="452.04" y1="419.51" x2="452.04" y2="439.84" stroke="#0000ff" stroke-width="1.5"/>
<line x1="452.04" y1="457.88" x2="452.04" y2="473.43" stroke="#0000ff" stroke-width="1.5"/>
<rect x="435.44" y="439.84" width="33.2" height="18.04" fill="#fff" stroke="#0000ff" stroke-width="1.4"/>
<line x1="435.44" y1="449.17" x2="468.64" y2="449.17" stroke="#0000ff" stroke-width="2.8"/>
<path d="M363.86,409.14V406.54H407.95V409.14" fill="none" stroke="#1a1a1a" stroke-width="1"/>
<text x="0" y="0" transform="translate(385.9,405.64) scale(1,1.1)" font-size="11.8" font-weight="normal" text-anchor="middle" fill="#1a1a1a">ns</text>
<path d="M363.86,399.61V397.21H452.04V399.61" fill="none" stroke="#1a1a1a" stroke-width="1"/>
<text x="0" y="0" transform="translate(407.95,399.21) scale(1,1.1)" font-size="10" font-weight="normal" text-anchor="middle" fill="#1a1a1a" letter-spacing="0.8" stroke="#1a1a1a" stroke-width="0.4">**</text>
<path d="M407.95,388.42V386.02H452.04V388.42" fill="none" stroke="#1a1a1a" stroke-width="1"/>
<text x="0" y="0" transform="translate(430,388.02) scale(1,1.1)" font-size="10" font-weight="normal" text-anchor="middle" fill="#1a1a1a" letter-spacing="0.8" stroke="#1a1a1a" stroke-width="0.4">****</text>
<rect x="337.4" y="378.2" width="141.1" height="100.1" fill="none" stroke="#2b2b2b" stroke-width="1.1"/>
<rect x="337.4" y="245.9" width="141.1" height="29.6" fill="#e4e4e4" stroke="#2b2b2b" stroke-width="1.1"/>
<text x="0" y="0" transform="translate(407.95,258.4) scale(1,1.1)" font-size="9.7" font-weight="bold" text-anchor="middle" fill="#000">EBV</text>
<text x="0" y="0" transform="translate(407.95,267.5) scale(1,1.1)" font-size="9.7" font-weight="bold" text-anchor="middle" fill="#000">(4,859 CDR3s)</text>
<line x1="337.4" y1="275.5" x2="478.5" y2="275.5" stroke="#0a0a0a" stroke-width="1.5"/>
<line x1="363.86" y1="478.3" x2="363.86" y2="482.7" stroke="#222222" stroke-width="1.1"/>
<line x1="407.95" y1="478.3" x2="407.95" y2="482.7" stroke="#222222" stroke-width="1.1"/>
<line x1="452.04" y1="478.3" x2="452.04" y2="482.7" stroke="#222222" stroke-width="1.1"/>
<text x="0" y="0" transform="translate(359.36,490.9) rotate(45) scale(1,1.1)" font-size="9.4" font-weight="bold" text-anchor="start" fill="#000">Blood</text>
<text x="0" y="0" transform="translate(403.45,490.9) rotate(45) scale(1,1.1)" font-size="9.4" font-weight="bold" text-anchor="start" fill="#000">Day 2 TST</text>
<text x="0" y="0" transform="translate(447.54,490.9) rotate(45) scale(1,1.1)" font-size="9.4" font-weight="bold" text-anchor="start" fill="#000">Day 7 TST</text>
<rect x="479.6" y="275.7" width="20" height="99.8" fill="#e4e4e4" stroke="#2b2b2b" stroke-width="1.1"/>
<line x1="479.3" y1="275.7" x2="479.3" y2="375.5" stroke="#0a0a0a" stroke-width="1.5"/>
<text x="0" y="0" transform="translate(485.2,325.6) rotate(90) scale(1,1.1)" font-size="9.4" font-weight="bold" text-anchor="middle" fill="#000">All TCRs</text>
<rect x="479.6" y="378.2" width="20" height="100.1" fill="#e4e4e4" stroke="#2b2b2b" stroke-width="1.1"/>
<line x1="479.3" y1="378.2" x2="479.3" y2="478.3" stroke="#0a0a0a" stroke-width="1.5"/>
<text x="0" y="0" transform="translate(485.2,428.25) rotate(90) scale(1,1.1)" font-size="9.4" font-weight="bold" text-anchor="middle" fill="#000">Expanded TCRs</text>
<line x1="46.1" y1="280" x2="50.1" y2="280" stroke="#222222" stroke-width="1.1"/>
<text x="0" y="0" transform="translate(42.8,283.88) scale(1,1.1)" font-size="9.2" font-weight="bold" text-anchor="end" fill="#000">100.0</text>
<line x1="46.1" y1="304.2" x2="50.1" y2="304.2" stroke="#222222" stroke-width="1.1"/>
<text x="0" y="0" transform="translate(42.8,308.08) scale(1,1.1)" font-size="9.2" font-weight="bold" text-anchor="end" fill="#000">10.0</text>
<line x1="46.1" y1="328.4" x2="50.1" y2="328.4" stroke="#222222" stroke-width="1.1"/>
<text x="0" y="0" transform="translate(42.8,332.28) scale(1,1.1)" font-size="9.2" font-weight="bold" text-anchor="end" fill="#000">1.0</text>
<line x1="46.1" y1="352.6" x2="50.1" y2="352.6" stroke="#222222" stroke-width="1.1"/>
<text x="0" y="0" transform="translate(42.8,356.48) scale(1,1.1)" font-size="9.2" font-weight="bold" text-anchor="end" fill="#000">0.1</text>
<line x1="46.1" y1="382.6" x2="50.1" y2="382.6" stroke="#222222" stroke-width="1.1"/>
<text x="0" y="0" transform="translate(42.8,386.48) scale(1,1.1)" font-size="9.2" font-weight="bold" text-anchor="end" fill="#000">100.0</text>
<line x1="46.1" y1="406.8" x2="50.1" y2="406.8" stroke="#222222" stroke-width="1.1"/>
<text x="0" y="0" transform="translate(42.8,410.68) scale(1,1.1)" font-size="9.2" font-weight="bold" text-anchor="end" fill="#000">10.0</text>
<line x1="46.1" y1="431" x2="50.1" y2="431" stroke="#222222" stroke-width="1.1"/>
<text x="0" y="0" transform="translate(42.8,434.88) scale(1,1.1)" font-size="9.2" font-weight="bold" text-anchor="end" fill="#000">1.0</text>
<line x1="46.1" y1="455.2" x2="50.1" y2="455.2" stroke="#222222" stroke-width="1.1"/>
<text x="0" y="0" transform="translate(42.8,459.08) scale(1,1.1)" font-size="9.2" font-weight="bold" text-anchor="end" fill="#000">0.1</text>
<text x="0" y="0" transform="translate(11.6,377) rotate(-90) scale(1,1.1)" font-size="9.6" font-weight="bold" text-anchor="middle" fill="#000">% of all CDR3s (down−sampled)</text>
<text x="0" y="0" transform="translate(-0.4,534.9) scale(1,1.1)" font-size="9.2" font-weight="bold" text-anchor="start" fill="#000">C</text>
<rect x="53.1" y="544.4" width="95.5" height="186.3" fill="#f6f6f6"/>
<line x1="53.1" y1="546.82" x2="148.6" y2="546.82" stroke="#fff" stroke-width="0.5"/>
<line x1="53.1" y1="604.98" x2="148.6" y2="604.98" stroke="#fff" stroke-width="0.5"/>
<line x1="53.1" y1="663.12" x2="148.6" y2="663.12" stroke="#fff" stroke-width="0.5"/>
<line x1="53.1" y1="721.27" x2="148.6" y2="721.27" stroke="#fff" stroke-width="0.5"/>
<line x1="53.1" y1="575.9" x2="148.6" y2="575.9" stroke="#fff" stroke-width="1"/>
<line x1="53.1" y1="634.05" x2="148.6" y2="634.05" stroke="#fff" stroke-width="1"/>
<line x1="53.1" y1="692.2" x2="148.6" y2="692.2" stroke="#fff" stroke-width="1"/>
<line x1="71.01" y1="544.4" x2="71.01" y2="730.7" stroke="#fff" stroke-width="1"/>
<line x1="100.85" y1="544.4" x2="100.85" y2="730.7" stroke="#fff" stroke-width="1"/>
<line x1="130.69" y1="544.4" x2="130.69" y2="730.7" stroke="#fff" stroke-width="1"/>
<line x1="71.01" y1="678.2" x2="71.01" y2="690.4" stroke="#0000ff" stroke-width="1.5"/>
<line x1="71.01" y1="708.3" x2="71.01" y2="722.9" stroke="#0000ff" stroke-width="1.5"/>
<rect x="59.81" y="690.4" width="22.4" height="17.9" fill="#fff" stroke="#0000ff" stroke-width="1.4"/>
<line x1="59.81" y1="697.1" x2="82.21" y2="697.1" stroke="#0000ff" stroke-width="2.8"/>
<line x1="100.85" y1="665.9" x2="100.85" y2="673.3" stroke="#0000ff" stroke-width="1.5"/>
<line x1="100.85" y1="686.4" x2="100.85" y2="687" stroke="#0000ff" stroke-width="1.5"/>
<rect x="89.65" y="673.3" width="22.4" height="13.1" fill="#fff" stroke="#0000ff" stroke-width="1.4"/>
<line x1="89.65" y1="679.4" x2="112.05" y2="679.4" stroke="#0000ff" stroke-width="2.8"/>
<line x1="130.69" y1="609.7" x2="130.69" y2="636.5" stroke="#0000ff" stroke-width="1.5"/>
<line x1="130.69" y1="657.2" x2="130.69" y2="684.3" stroke="#0000ff" stroke-width="1.5"/>
<rect x="119.49" y="636.5" width="22.4" height="20.7" fill="#fff" stroke="#0000ff" stroke-width="1.4"/>
<line x1="119.49" y1="647.9" x2="141.89" y2="647.9" stroke="#0000ff" stroke-width="2.8"/>
<circle cx="130.69" cy="590.1" r="2.9" fill="#0000ff"/>
<path d="M71.01,580.9V575.9H100.85V580.9" fill="none" stroke="#1a1a1a" stroke-width="1"/>
<text x="0" y="0" transform="translate(85.93,577.9) scale(1,1.1)" font-size="10" font-weight="normal" text-anchor="middle" fill="#1a1a1a" letter-spacing="0.8" stroke="#1a1a1a" stroke-width="0.4">****</text>
<path d="M71.01,569.5V564.5H130.69V569.5" fill="none" stroke="#1a1a1a" stroke-width="1"/>
<text x="0" y="0" transform="translate(100.85,566.5) scale(1,1.1)" font-size="10" font-weight="normal" text-anchor="middle" fill="#1a1a1a" letter-spacing="0.8" stroke="#1a1a1a" stroke-width="0.4">****</text>
<path d="M100.85,557.6V552.4H130.69V557.6" fill="none" stroke="#1a1a1a" stroke-width="1"/>
<text x="0" y="0" transform="translate(115.77,554.4) scale(1,1.1)" font-size="10" font-weight="normal" text-anchor="middle" fill="#1a1a1a" letter-spacing="0.8" stroke="#1a1a1a" stroke-width="0.4">****</text>
<rect x="53.1" y="544.4" width="95.5" height="186.3" fill="none" stroke="#1a1a1a" stroke-width="1.1"/>
<line x1="49.1" y1="575.9" x2="53.1" y2="575.9" stroke="#222222" stroke-width="1.1"/>
<text x="0" y="0" transform="translate(45.8,579.78) scale(1,1.1)" font-size="9.2" font-weight="bold" text-anchor="end" fill="#000">1e−04</text>
<line x1="49.1" y1="634.05" x2="53.1" y2="634.05" stroke="#222222" stroke-width="1.1"/>
<text x="0" y="0" transform="translate(45.8,637.93) scale(1,1.1)" font-size="9.2" font-weight="bold" text-anchor="end" fill="#000">1e−05</text>
<line x1="49.1" y1="692.2" x2="53.1" y2="692.2" stroke="#222222" stroke-width="1.1"/>
<text x="0" y="0" transform="translate(45.8,696.08) scale(1,1.1)" font-size="9.2" font-weight="bold" text-anchor="end" fill="#000">1e−06</text>
<line x1="71.01" y1="730.7" x2="71.01" y2="735.1" stroke="#222222" stroke-width="1.1"/>
<line x1="100.85" y1="730.7" x2="100.85" y2="735.1" stroke="#222222" stroke-width="1.1"/>
<line x1="130.69" y1="730.7" x2="130.69" y2="735.1" stroke="#222222" stroke-width="1.1"/>
<text x="0" y="0" transform="translate(66.51,743.3) rotate(45) scale(1,1.1)" font-size="9.4" font-weight="bold" text-anchor="start" fill="#000">Blood</text>
<text x="0" y="0" transform="translate(96.35,743.3) rotate(45) scale(1,1.1)" font-size="9.4" font-weight="bold" text-anchor="start" fill="#000">Day 2 TST</text>
<text x="0" y="0" transform="translate(126.19,743.3) rotate(45) scale(1,1.1)" font-size="9.4" font-weight="bold" text-anchor="start" fill="#000">Day 7 TST</text>
<text x="0" y="0" transform="translate(11.6,637.6) rotate(-90) scale(1,1.1)" font-size="9.6" font-weight="bold" text-anchor="middle" fill="#000">Within donor co−incidence</text>
<text x="0" y="0" transform="translate(176,535.2) scale(1,1.1)" font-size="9.2" font-weight="bold" text-anchor="start" fill="#000">D</text>
<rect x="228.5" y="544.6" width="96.2" height="186.1" fill="#f6f6f6"/>
<line x1="228.5" y1="585.43" x2="324.7" y2="585.43" stroke="#fff" stroke-width="0.5"/>
<line x1="228.5" y1="640.3" x2="324.7" y2="640.3" stroke="#fff" stroke-width="0.5"/>
<line x1="228.5" y1="695.17" x2="324.7" y2="695.17" stroke="#fff" stroke-width="0.5"/>
<line x1="228.5" y1="558" x2="324.7" y2="558" stroke="#fff" stroke-width="1"/>
<line x1="228.5" y1="612.87" x2="324.7" y2="612.87" stroke="#fff" stroke-width="1"/>
<line x1="228.5" y1="667.74" x2="324.7" y2="667.74" stroke="#fff" stroke-width="1"/>
<line x1="228.5" y1="722.61" x2="324.7" y2="722.61" stroke="#fff" stroke-width="1"/>
<line x1="246.54" y1="544.6" x2="246.54" y2="730.7" stroke="#fff" stroke-width="1"/>
<line x1="276.6" y1="544.6" x2="276.6" y2="730.7" stroke="#fff" stroke-width="1"/>
<line x1="306.66" y1="544.6" x2="306.66" y2="730.7" stroke="#fff" stroke-width="1"/>
<line x1="246.54" y1="640.4" x2="246.54" y2="657.8" stroke="#0000ff" stroke-width="1.5"/>
<line x1="246.54" y1="669.3" x2="246.54" y2="682.2" stroke="#0000ff" stroke-width="1.5"/>
<rect x="235.34" y="657.8" width="22.4" height="11.5" fill="#fff" stroke="#0000ff" stroke-width="1.4"/>
<line x1="235.34" y1="663.2" x2="257.74" y2="663.2" stroke="#0000ff" stroke-width="2.8"/>
<line x1="276.6" y1="640" x2="276.6" y2="654.4" stroke="#0000ff" stroke-width="1.5"/>
<line x1="276.6" y1="666.6" x2="276.6" y2="683" stroke="#0000ff" stroke-width="1.5"/>
<rect x="265.4" y="654.4" width="22.4" height="12.2" fill="#fff" stroke="#0000ff" stroke-width="1.4"/>
<line x1="265.4" y1="661" x2="287.8" y2="661" stroke="#0000ff" stroke-width="2.8"/>
<line x1="306.66" y1="602" x2="306.66" y2="642.4" stroke="#0000ff" stroke-width="1.5"/>
<line x1="306.66" y1="670.1" x2="306.66" y2="703.1" stroke="#0000ff" stroke-width="1.5"/>
<rect x="295.46" y="642.4" width="22.4" height="27.7" fill="#fff" stroke="#0000ff" stroke-width="1.4"/>
<line x1="295.46" y1="656.2" x2="317.86" y2="656.2" stroke="#0000ff" stroke-width="2.8"/>
<circle cx="246.54" cy="633.5" r="2.9" fill="#0000ff"/>
<circle cx="246.54" cy="635.17" r="2.9" fill="#0000ff"/>
<circle cx="246.54" cy="636.83" r="2.9" fill="#0000ff"/>
<circle cx="246.54" cy="638.5" r="2.9" fill="#0000ff"/>
<circle cx="246.54" cy="690.7" r="2.9" fill="#0000ff"/>
<circle cx="276.6" cy="622" r="2.9" fill="#0000ff"/>
<circle cx="276.6" cy="624.5" r="2.9" fill="#0000ff"/>
<circle cx="276.6" cy="627" r="2.9" fill="#0000ff"/>
<circle cx="276.6" cy="629.5" r="2.9" fill="#0000ff"/>
<circle cx="276.6" cy="632" r="2.9" fill="#0000ff"/>
<circle cx="276.6" cy="634.5" r="2.9" fill="#0000ff"/>
<circle cx="276.6" cy="637" r="2.9" fill="#0000ff"/>
<circle cx="276.6" cy="685.4" r="2.9" fill="#0000ff"/>
<circle cx="276.6" cy="691" r="2.9" fill="#0000ff"/>
<circle cx="306.66" cy="569.5" r="2.9" fill="#0000ff"/>
<circle cx="306.66" cy="571.63" r="2.9" fill="#0000ff"/>
<circle cx="306.66" cy="573.77" r="2.9" fill="#0000ff"/>
<circle cx="306.66" cy="575.9" r="2.9" fill="#0000ff"/>
<circle cx="306.66" cy="578.03" r="2.9" fill="#0000ff"/>
<circle cx="306.66" cy="580.17" r="2.9" fill="#0000ff"/>
<circle cx="306.66" cy="582.3" r="2.9" fill="#0000ff"/>
<circle cx="306.66" cy="584.43" r="2.9" fill="#0000ff"/>
<circle cx="306.66" cy="586.57" r="2.9" fill="#0000ff"/>
<circle cx="306.66" cy="588.7" r="2.9" fill="#0000ff"/>
<circle cx="306.66" cy="590.83" r="2.9" fill="#0000ff"/>
<circle cx="306.66" cy="592.97" r="2.9" fill="#0000ff"/>
<circle cx="306.66" cy="595.1" r="2.9" fill="#0000ff"/>
<circle cx="306.66" cy="597.23" r="2.9" fill="#0000ff"/>
<circle cx="306.66" cy="599.37" r="2.9" fill="#0000ff"/>
<circle cx="306.66" cy="601.5" r="2.9" fill="#0000ff"/>
<circle cx="306.66" cy="722.7" r="2.9" fill="#0000ff"/>
<clipPath id="cD"><rect x="228.5" y="544.3000000000001" width="96.19999999999999" height="186.10000000000002"/></clipPath>
<path d="M246.54,579.3V574.3H276.6V579.3" fill="none" stroke="#1a1a1a" stroke-width="1"/>
<text x="0" y="0" transform="translate(261.57,576.3) scale(1,1.1)" font-size="10" font-weight="normal" text-anchor="middle" fill="#1a1a1a" letter-spacing="0.8" stroke="#1a1a1a" stroke-width="0.4">*</text>
<path d="M246.54,568.6V563.4H306.66V568.6" fill="none" stroke="#1a1a1a" stroke-width="1"/>
<text x="0" y="0" transform="translate(276.6,565.4) scale(1,1.1)" font-size="10" font-weight="normal" text-anchor="middle" fill="#1a1a1a" letter-spacing="0.8" stroke="#1a1a1a" stroke-width="0.4">****</text>
<g clip-path="url(#cD)">
<path d="M276.6,557.4V552.2H306.66V557.4" fill="none" stroke="#1a1a1a" stroke-width="1"/>
<text x="0" y="0" transform="translate(291.63,551) scale(1,1.1)" font-size="11.8" font-weight="normal" text-anchor="middle" fill="#1a1a1a">ns</text>
</g>
<rect x="228.5" y="544.6" width="96.2" height="186.1" fill="none" stroke="#1a1a1a" stroke-width="1.1"/>
<line x1="224.5" y1="558" x2="228.5" y2="558" stroke="#222222" stroke-width="1.1"/>
<text x="0" y="0" transform="translate(221.2,561.88) scale(1,1.1)" font-size="9.2" font-weight="bold" text-anchor="end" fill="#000">1e−05</text>
<line x1="224.5" y1="612.87" x2="228.5" y2="612.87" stroke="#222222" stroke-width="1.1"/>
<text x="0" y="0" transform="translate(221.2,616.75) scale(1,1.1)" font-size="9.2" font-weight="bold" text-anchor="end" fill="#000">1e−06</text>
<line x1="224.5" y1="667.74" x2="228.5" y2="667.74" stroke="#222222" stroke-width="1.1"/>
<text x="0" y="0" transform="translate(221.2,671.62) scale(1,1.1)" font-size="9.2" font-weight="bold" text-anchor="end" fill="#000">1e−07</text>
<line x1="224.5" y1="722.61" x2="228.5" y2="722.61" stroke="#222222" stroke-width="1.1"/>
<text x="0" y="0" transform="translate(221.2,726.49) scale(1,1.1)" font-size="9.2" font-weight="bold" text-anchor="end" fill="#000">1e−08</text>
<line x1="246.54" y1="730.7" x2="246.54" y2="735.1" stroke="#222222" stroke-width="1.1"/>
<line x1="276.6" y1="730.7" x2="276.6" y2="735.1" stroke="#222222" stroke-width="1.1"/>
<line x1="306.66" y1="730.7" x2="306.66" y2="735.1" stroke="#222222" stroke-width="1.1"/>
<text x="0" y="0" transform="translate(242.04,743.3) rotate(45) scale(1,1.1)" font-size="9.4" font-weight="bold" text-anchor="start" fill="#000">Blood</text>
<text x="0" y="0" transform="translate(272.1,743.3) rotate(45) scale(1,1.1)" font-size="9.4" font-weight="bold" text-anchor="start" fill="#000">Day 2 TST</text>
<text x="0" y="0" transform="translate(302.16,743.3) rotate(45) scale(1,1.1)" font-size="9.4" font-weight="bold" text-anchor="start" fill="#000">Day 7 TST</text>
<text x="0" y="0" transform="translate(186.9,637.5) rotate(-90) scale(1,1.1)" font-size="9.6" font-weight="bold" text-anchor="middle" fill="#000">Between donor co−incidence</text>
<text x="0" y="0" transform="translate(351.3,534.9) scale(1,1.1)" font-size="9.2" font-weight="bold" text-anchor="start" fill="#000">E</text>
<rect x="404.5" y="565.4" width="134.2" height="180.9" fill="#f6f6f6"/>
<line x1="404.5" y1="600.7" x2="538.7" y2="600.7" stroke="#fff" stroke-width="0.5"/>
<line x1="404.5" y1="655.7" x2="538.7" y2="655.7" stroke="#fff" stroke-width="0.5"/>
<line x1="404.5" y1="710.7" x2="538.7" y2="710.7" stroke="#fff" stroke-width="0.5"/>
<line x1="439.8" y1="565.4" x2="439.8" y2="746.3" stroke="#fff" stroke-width="0.5"/>
<line x1="482.2" y1="565.4" x2="482.2" y2="746.3" stroke="#fff" stroke-width="0.5"/>
<line x1="524.6" y1="565.4" x2="524.6" y2="746.3" stroke="#fff" stroke-width="0.5"/>
<line x1="404.5" y1="573.2" x2="538.7" y2="573.2" stroke="#fff" stroke-width="1"/>
<line x1="404.5" y1="628.2" x2="538.7" y2="628.2" stroke="#fff" stroke-width="1"/>
<line x1="404.5" y1="683.2" x2="538.7" y2="683.2" stroke="#fff" stroke-width="1"/>
<line x1="404.5" y1="738.2" x2="538.7" y2="738.2" stroke="#fff" stroke-width="1"/>
<line x1="418.6" y1="565.4" x2="418.6" y2="746.3" stroke="#fff" stroke-width="1"/>
<line x1="461" y1="565.4" x2="461" y2="746.3" stroke="#fff" stroke-width="1"/>
<line x1="503.4" y1="565.4" x2="503.4" y2="746.3" stroke="#fff" stroke-width="1"/>
<rect x="404.5" y="544.3" width="134.2" height="20.3" fill="#e4e4e4"/>
<text x="0" y="0" transform="translate(471.6,558.2) scale(1,1.1)" font-size="9.7" font-weight="bold" text-anchor="middle" fill="#000">MHC class I</text>
<text x="0" y="0" transform="translate(408.8,576.2) scale(1,1.1)" font-size="8.25" font-weight="normal" text-anchor="start" fill="#1a1a1a">ß=1.29e−08 (4.96e−09−2.08e−08)</text>
<rect x="410.7" y="622" width="15.8" height="91.5" fill="#000"/>
<rect x="431.9" y="624" width="15.8" height="87.5" fill="#000"/>
<rect x="453.1" y="630.5" width="15.8" height="75" fill="#000"/>
<path d="M413.9,599.3h0M424.1,600.8h0M419.5,606.0h0M412.8,606.6h0M410.8,606.0h0M418.9,606.5h0M418.5,607.2h0M410.3,607.2h0M416.4,608.0h0M414.6,609.9h0M419.3,610.5h0M424.9,610.4h0M420.3,610.1h0M416.7,610.3h0M416.6,612.0h0M417.6,612.2h0M416.9,612.1h0M426.6,612.2h0M421.5,612.3h0M412.6,613.2h0M425.9,613.6h0M413.2,613.9h0M421.0,613.6h0M416.5,613.4h0M414.2,613.0h0M416.4,614.0h0M412.2,615.0h0M421.3,614.4h0M419.0,614.9h0M416.0,614.6h0M426.0,615.0h0M422.9,615.8h0M412.4,615.4h0M424.0,615.0h0M420.8,615.8h0M413.1,616.3h0M426.2,616.6h0M415.9,616.3h0M426.3,616.4h0M417.4,617.5h0M426.3,617.3h0M423.8,617.7h0M422.3,617.6h0M426.6,617.3h0M416.9,617.2h0M411.0,617.2h0M425.7,617.8h0M412.0,617.6h0M418.2,617.6h0M417.1,618.8h0M424.0,618.7h0M412.0,618.9h0M423.7,618.9h0M419.0,618.9h0M410.9,618.0h0M410.4,618.3h0M420.1,619.2h0M421.6,619.0h0M415.4,619.9h0M426.4,620.9h0M411.0,620.3h0M415.5,620.1h0M420.8,620.8h0M415.4,620.9h0M423.7,620.1h0M423.1,620.9h0M424.8,621.9h0M412.8,621.0h0M421.2,621.2h0M419.7,621.9h0M416.5,621.3h0M417.9,621.7h0M411.8,621.4h0M412.4,621.7h0M424.2,621.4h0M416.4,621.5h0M425.4,623.6h0M410.4,625.1h0M410.8,626.8h0M426.1,626.9h0M410.3,627.7h0M427.0,627.5h0M425.4,627.2h0M426.5,627.5h0M410.5,628.8h0M411.5,628.7h0M425.7,628.2h0M425.4,628.8h0M425.5,628.4h0M426.3,628.4h0M425.9,629.7h0M426.3,629.8h0M411.8,631.0h0M410.4,630.7h0M426.9,631.0h0M426.8,630.2h0M411.8,631.2h0M425.4,631.1h0M410.8,632.3h0M427.0,633.0h0M411.0,633.2h0M410.4,633.0h0M426.7,633.9h0M411.6,634.3h0M426.0,634.6h0M411.8,635.9h0M412.2,637.2h0M411.2,637.5h0M426.4,637.6h0M411.9,639.8h0M411.7,639.8h0M426.7,639.8h0M426.7,639.9h0M412.2,640.2h0M425.0,640.6h0M411.9,641.7h0M426.2,641.7h0M425.3,641.3h0M411.3,642.8h0M412.2,643.5h0M425.9,643.7h0M425.0,644.0h0M411.3,645.1h0M426.7,645.9h0M425.9,646.8h0M426.1,646.6h0M411.3,647.4h0M411.7,647.4h0M411.1,647.8h0M425.3,647.4h0M411.7,648.0h0M411.0,648.9h0M425.6,648.7h0M410.5,649.3h0M411.1,650.4h0M411.4,650.9h0M425.2,650.5h0M425.6,650.1h0M411.2,651.2h0M426.1,651.8h0M426.1,651.4h0M410.8,652.7h0M425.5,652.8h0M411.6,653.2h0M425.7,653.3h0M411.5,654.2h0M426.4,654.3h0M425.5,655.2h0M411.5,657.8h0M411.8,657.3h0M410.7,657.4h0M426.1,657.6h0M410.5,660.2h0M426.1,660.2h0M425.7,661.4h0M412.1,662.9h0M411.6,662.0h0M426.6,663.0h0M425.2,662.1h0M411.6,664.6h0M412.2,664.6h0M410.8,664.5h0M410.1,664.7h0M425.2,664.8h0M410.4,665.2h0M412.1,666.7h0M412.0,666.4h0M410.4,667.8h0M426.5,667.9h0M425.3,668.1h0M411.3,669.8h0M425.7,670.5h0M425.2,670.3h0M411.7,671.7h0M411.0,671.0h0M412.2,671.7h0M411.1,672.9h0M426.4,672.1h0M411.7,675.9h0M410.3,676.1h0M425.8,676.9h0M425.2,676.0h0M426.0,676.4h0M410.7,677.8h0M425.0,677.3h0M426.9,678.6h0M411.4,679.8h0M411.4,679.8h0M411.3,679.2h0M426.7,679.6h0M411.3,680.7h0M426.3,680.5h0M411.9,681.9h0M410.3,681.2h0M410.8,682.2h0M411.1,682.9h0M425.5,683.4h0M426.8,684.8h0M426.4,684.8h0M426.1,685.7h0M410.4,686.3h0M411.4,688.3h0M426.2,689.8h0M410.8,690.7h0M410.7,690.1h0M425.0,690.1h0M412.2,691.7h0M410.4,691.9h0M412.1,693.6h0M411.3,694.7h0M425.3,694.4h0M425.4,694.9h0M411.1,695.9h0M426.2,695.4h0M425.4,695.5h0M411.1,696.1h0M411.9,697.2h0M410.6,697.3h0M410.8,698.6h0M425.7,699.0h0M426.2,699.6h0M425.8,700.2h0M412.2,701.2h0M425.8,703.0h0M411.2,703.6h0M426.4,703.0h0M426.7,704.3h0M411.7,706.0h0M410.6,707.0h0M426.4,706.0h0M426.6,706.0h0M426.8,707.9h0M410.3,708.8h0M426.9,708.3h0M425.8,709.0h0M410.1,709.9h0M410.2,709.1h0M426.7,709.0h0M425.2,710.0h0M426.6,709.9h0M411.2,710.0h0M425.5,710.5h0M410.7,711.9h0M411.2,711.1h0M411.2,712.5h0M411.1,713.0h0M426.8,712.4h0M410.6,713.8h0M410.1,713.7h0M410.5,713.5h0M426.2,713.7h0M427.0,713.3h0M413.0,714.9h0M426.4,714.5h0M418.0,714.9h0M415.0,714.8h0M415.0,714.7h0M411.3,715.3h0M420.7,715.1h0M421.5,716.0h0M426.8,715.9h0M423.8,715.2h0M426.6,715.2h0M424.9,715.9h0M412.3,716.8h0M425.8,716.1h0M410.3,716.3h0M412.4,716.2h0M420.0,716.4h0M418.0,717.9h0M414.3,717.7h0M415.4,717.9h0M416.8,717.5h0M426.9,718.0h0M415.2,719.0h0M410.4,718.2h0M418.1,719.6h0M423.9,720.8h0M419.3,721.6h0M418.8,722.1h0M419.7,722.8h0M427.0,723.7h0M423.3,724.2h0M424.9,725.5h0M418.0,725.3h0M421.9,726.4h0M427.0,727.6h0M411.4,727.5h0M441.0,601.0h0M446.1,603.7h0M446.5,605.1h0M433.8,607.5h0M441.4,610.0h0M439.1,609.8h0M433.0,609.9h0M443.5,610.2h0M435.8,610.3h0M441.4,610.6h0M447.1,610.0h0M440.0,612.8h0M442.4,612.3h0M438.8,614.4h0M441.2,614.6h0M447.5,614.3h0M447.7,615.3h0M433.5,615.8h0M436.4,615.8h0M441.7,615.5h0M432.8,615.8h0M432.4,616.0h0M439.5,616.1h0M439.8,616.2h0M438.2,616.6h0M440.0,617.9h0M438.1,617.3h0M440.8,617.3h0M447.1,617.1h0M434.8,617.1h0M443.4,617.3h0M437.9,619.0h0M444.3,618.1h0M443.2,618.9h0M447.8,618.7h0M437.8,620.0h0M440.8,619.5h0M447.4,619.3h0M448.3,619.9h0M437.5,619.3h0M446.4,620.6h0M442.7,620.7h0M432.0,620.1h0M435.3,621.9h0M433.4,621.5h0M432.2,621.9h0M434.2,621.4h0M440.6,621.7h0M447.2,621.7h0M444.5,622.2h0M439.1,622.5h0M441.7,623.0h0M443.0,622.4h0M438.8,623.3h0M445.5,623.8h0M437.1,623.6h0M446.6,623.4h0M440.7,623.4h0M442.4,624.0h0M433.7,624.0h0M432.0,624.7h0M431.9,624.5h0M432.8,624.2h0M432.7,625.1h0M432.8,625.6h0M432.7,625.4h0M432.1,626.1h0M432.5,626.6h0M446.6,626.3h0M446.8,626.4h0M446.8,627.6h0M432.8,628.3h0M447.1,628.0h0M432.1,629.1h0M448.1,629.6h0M448.0,629.9h0M448.0,630.3h0M446.6,631.1h0M447.0,631.4h0M447.7,632.8h0M446.1,632.6h0M432.1,633.6h0M433.3,633.3h0M432.2,633.0h0M432.8,633.4h0M446.8,633.7h0M432.2,634.7h0M446.5,635.8h0M433.1,636.7h0M432.9,636.7h0M433.1,636.3h0M447.6,636.2h0M447.2,636.4h0M432.8,638.0h0M431.8,637.5h0M433.0,638.9h0M432.4,638.8h0M447.2,638.2h0M431.8,640.9h0M431.7,641.1h0M431.5,641.3h0M432.2,641.9h0M447.1,641.2h0M448.2,641.9h0M447.6,641.2h0M448.3,642.7h0M447.3,643.7h0M446.1,643.8h0M448.1,644.2h0M447.4,645.4h0M447.7,645.4h0M446.6,645.1h0M447.7,645.5h0M431.5,646.2h0M432.0,646.3h0M447.6,646.8h0M446.3,646.6h0M447.5,646.4h0M431.7,647.0h0M431.6,647.9h0M447.5,647.8h0M446.8,647.1h0M432.8,648.5h0M432.5,649.1h0M431.8,649.1h0M447.5,650.8h0M431.9,652.5h0M431.8,652.9h0M448.2,652.9h0M446.4,653.5h0M447.7,653.5h0M447.6,653.8h0M446.5,653.1h0M446.2,654.9h0M432.1,655.0h0M433.1,655.3h0M431.5,655.3h0M431.8,656.9h0M447.8,656.9h0M446.6,656.5h0M431.4,658.4h0M447.5,658.3h0M432.4,659.2h0M446.7,659.8h0M446.4,659.8h0M432.8,660.3h0M431.9,660.1h0M446.9,660.7h0M432.7,661.8h0M432.5,663.3h0M447.8,663.7h0M446.7,663.7h0M447.3,664.5h0M447.2,664.2h0M447.3,665.0h0M431.3,667.0h0M431.4,667.9h0M447.4,667.4h0M448.3,668.2h0M447.2,668.7h0M447.4,668.4h0M431.9,669.3h0M448.2,669.4h0M433.1,670.2h0M446.4,670.2h0M431.5,671.6h0M432.4,671.5h0M447.2,671.5h0M447.4,671.2h0M447.8,673.5h0M432.8,676.0h0M447.4,675.2h0M446.2,675.1h0M446.2,676.4h0M447.0,676.1h0M432.2,677.9h0M448.2,677.5h0M448.2,678.0h0M448.3,677.3h0M433.3,679.7h0M446.5,679.3h0M433.3,680.9h0M432.1,680.1h0M433.2,680.7h0M433.3,681.3h0M447.3,683.0h0M448.3,682.3h0M433.3,683.8h0M432.8,684.3h0M447.7,684.2h0M432.8,685.5h0M431.9,685.3h0M447.0,685.9h0M446.7,686.8h0M432.4,687.2h0M431.5,687.4h0M432.9,687.8h0M431.3,687.9h0M447.3,688.8h0M447.5,688.8h0M446.6,688.5h0M432.7,689.3h0M432.5,689.6h0M446.1,690.0h0M446.5,690.4h0M446.7,690.8h0M433.1,691.7h0M446.6,691.9h0M432.0,692.0h0M432.6,694.3h0M447.3,694.6h0M433.3,695.3h0M446.2,695.5h0M447.8,695.8h0M432.5,696.7h0M433.3,696.6h0M432.6,696.4h0M446.3,696.8h0M433.0,697.5h0M433.0,697.3h0M447.7,697.5h0M446.4,697.3h0M432.0,698.6h0M446.7,698.6h0M447.5,698.8h0M446.3,698.5h0M431.7,699.8h0M431.6,700.8h0M447.7,700.8h0M432.3,701.2h0M432.4,701.2h0M431.7,701.4h0M432.7,703.0h0M446.5,702.3h0M447.1,703.0h0M447.0,702.5h0M433.1,703.0h0M432.0,705.6h0M447.8,705.9h0M448.0,705.1h0M447.2,706.7h0M446.9,706.3h0M448.1,706.2h0M433.3,707.4h0M433.3,707.6h0M432.5,707.8h0M447.0,707.4h0M448.1,707.1h0M433.0,708.1h0M432.4,709.2h0M431.4,710.8h0M447.8,710.2h0M447.6,710.9h0M448.1,711.7h0M446.8,711.3h0M444.3,712.5h0M442.6,712.7h0M441.6,712.2h0M443.2,712.1h0M435.9,712.4h0M433.2,712.1h0M446.7,714.0h0M437.2,713.7h0M445.3,713.7h0M436.2,713.6h0M446.2,713.1h0M439.5,713.0h0M445.7,713.8h0M432.1,713.7h0M432.4,714.1h0M445.8,714.7h0M445.5,714.6h0M441.1,714.5h0M443.8,714.3h0M439.7,714.5h0M442.5,714.2h0M431.7,714.1h0M439.2,715.9h0M440.0,715.6h0M437.7,715.2h0M442.0,715.5h0M437.2,715.3h0M439.4,716.9h0M443.5,716.7h0M437.1,716.8h0M437.9,717.0h0M446.5,716.7h0M435.4,717.6h0M444.3,717.1h0M447.6,717.3h0M448.2,717.8h0M439.6,717.4h0M432.9,717.1h0M445.9,718.7h0M443.2,718.8h0M440.4,718.5h0M437.5,718.9h0M446.6,718.2h0M444.4,718.3h0M434.4,718.2h0M441.0,718.3h0M436.8,719.8h0M436.3,721.9h0M448.2,721.9h0M439.0,722.2h0M432.4,723.9h0M448.1,723.5h0M435.1,723.5h0M435.5,724.3h0M432.1,724.3h0M443.7,725.8h0M435.1,726.7h0M447.8,727.9h0M441.0,727.7h0M446.5,729.3h0M440.3,730.1h0M458.2,613.9h0M469.4,614.0h0M464.6,615.1h0M453.9,615.8h0M452.7,616.5h0M460.9,618.1h0M465.8,618.6h0M456.5,619.0h0M468.5,619.3h0M469.2,619.1h0M465.0,619.3h0M456.3,620.1h0M465.1,620.2h0M468.4,621.5h0M463.6,621.7h0M460.4,622.2h0M452.8,622.9h0M461.6,623.2h0M469.2,624.0h0M468.3,623.8h0M463.0,624.1h0M452.7,624.7h0M458.3,624.7h0M457.1,625.4h0M456.8,625.2h0M467.3,625.0h0M455.6,625.8h0M456.3,625.3h0M468.9,625.8h0M460.1,625.1h0M464.7,626.3h0M454.7,626.0h0M457.5,626.9h0M467.7,626.7h0M465.2,626.2h0M457.2,627.0h0M465.5,627.7h0M466.8,627.2h0M456.5,627.6h0M468.4,627.5h0M455.9,627.6h0M468.8,627.9h0M467.8,627.4h0M457.0,627.9h0M465.9,627.9h0M459.2,627.3h0M457.0,628.3h0M456.9,628.5h0M454.2,628.8h0M455.5,628.4h0M463.4,628.1h0M459.5,628.6h0M461.9,628.9h0M465.8,628.1h0M468.1,629.9h0M466.2,629.4h0M461.5,629.2h0M465.4,629.9h0M455.2,629.7h0M464.3,629.0h0M468.1,629.5h0M457.1,629.0h0M465.8,629.3h0M461.2,629.2h0M462.8,629.4h0M466.2,629.7h0M464.8,629.3h0M468.6,630.4h0M468.4,630.2h0M468.6,630.5h0M469.4,630.4h0M468.9,630.6h0M453.9,631.3h0M453.3,631.8h0M469.5,632.0h0M454.5,632.2h0M453.5,632.7h0M453.0,632.7h0M454.7,633.6h0M454.2,633.0h0M454.5,634.9h0M453.9,634.4h0M454.1,634.2h0M454.0,634.7h0M469.5,634.2h0M452.7,635.2h0M467.6,635.9h0M454.6,636.2h0M453.9,636.3h0M454.3,636.2h0M467.6,636.6h0M452.9,637.9h0M469.1,637.6h0M468.9,637.5h0M468.5,637.6h0M454.3,638.9h0M454.2,638.6h0M468.9,638.7h0M468.7,638.4h0M452.7,639.0h0M468.5,639.9h0M453.3,640.9h0M453.5,640.9h0M452.9,640.1h0M454.5,640.4h0M467.4,640.4h0M469.0,640.2h0M454.4,641.1h0M468.1,642.6h0M469.5,642.2h0M454.6,643.5h0M468.3,645.5h0M454.1,647.5h0M468.7,647.5h0M452.7,648.0h0M469.2,648.6h0M453.4,649.3h0M452.5,650.0h0M467.6,650.0h0M452.9,650.5h0M468.2,650.1h0M468.4,650.1h0M469.3,650.1h0M468.8,650.3h0M452.7,651.7h0M468.3,651.7h0M469.3,651.2h0M467.9,651.2h0M453.4,652.8h0M468.9,652.8h0M454.4,653.7h0M467.9,653.8h0M469.3,653.5h0M468.2,653.1h0M453.5,654.9h0M453.4,654.8h0M453.4,654.3h0M467.7,656.0h0M468.0,657.3h0M454.4,659.6h0M468.8,660.5h0M467.5,660.5h0M453.6,661.7h0M453.6,661.7h0M467.4,662.6h0M469.3,662.8h0M454.4,663.5h0M452.5,665.6h0M453.4,665.4h0M469.2,665.6h0M467.4,665.1h0M468.4,665.4h0M468.6,665.3h0M467.9,667.6h0M454.4,668.4h0M468.5,668.6h0M469.3,668.5h0M452.8,670.5h0M453.5,670.4h0M454.2,670.7h0M468.0,670.9h0M467.4,671.0h0M453.5,671.8h0M452.9,672.4h0M454.4,673.3h0M468.3,673.1h0M469.0,674.6h0M453.7,675.6h0M453.3,677.2h0M467.6,677.7h0M469.0,677.9h0M468.5,678.5h0M453.4,679.4h0M454.7,679.7h0M453.4,679.4h0M467.7,679.7h0M453.4,680.1h0M469.3,680.4h0M453.6,682.0h0M468.2,681.6h0M468.5,681.4h0M469.0,681.1h0M453.7,682.2h0M467.5,682.7h0M454.3,683.0h0M453.4,684.5h0M454.1,685.5h0M454.0,685.7h0M467.3,685.5h0M467.5,686.5h0M469.4,687.9h0M467.5,687.0h0M453.7,688.1h0M468.0,688.7h0M453.1,690.3h0M469.3,690.6h0M453.2,691.0h0M453.7,691.6h0M467.7,691.7h0M467.5,691.9h0M467.4,692.6h0M468.2,692.1h0M453.4,693.4h0M468.8,693.9h0M469.2,694.0h0M468.6,693.4h0M453.5,694.4h0M469.1,694.4h0M467.8,695.1h0M453.2,696.8h0M468.7,696.8h0M453.7,697.8h0M453.4,697.0h0M453.1,697.6h0M467.3,697.4h0M469.0,697.6h0M454.1,698.7h0M467.5,698.8h0M468.8,699.1h0M453.6,700.4h0M467.4,700.4h0M467.9,700.2h0M453.0,701.6h0M454.5,701.3h0M452.5,701.2h0M469.4,701.1h0M454.1,702.4h0M454.1,702.5h0M469.5,702.6h0M452.7,704.6h0M468.7,704.6h0M469.0,705.9h0M468.4,705.2h0M468.2,705.7h0M468.2,705.0h0M453.9,706.6h0M460.0,706.1h0M459.1,707.7h0M458.1,707.4h0M468.0,707.2h0M456.6,707.9h0M457.2,707.3h0M467.5,707.3h0M469.4,707.8h0M466.9,707.2h0M456.2,707.8h0M466.6,707.2h0M461.0,708.6h0M453.4,708.2h0M454.5,708.3h0M469.0,709.8h0M463.5,709.4h0M459.4,709.3h0M466.2,709.8h0M456.4,710.9h0M466.1,710.9h0M466.5,710.8h0M459.9,710.8h0M455.3,710.7h0M465.6,711.8h0M453.2,711.6h0M459.6,711.6h0M454.7,712.4h0M455.5,712.2h0M464.0,713.0h0M460.3,712.6h0M465.4,712.7h0M467.3,713.2h0M465.3,714.3h0M468.6,714.6h0M452.7,715.6h0M459.7,715.4h0M460.6,716.3h0M469.0,717.9h0M466.3,719.8h0M455.9,719.9h0M478.6,614.7h0M477.1,614.4h0M486.8,615.7h0M487.7,618.6h0M475.9,619.4h0M482.0,619.9h0M487.8,620.1h0M480.4,620.2h0M488.7,620.6h0M480.9,621.1h0M479.8,622.2h0M488.0,622.1h0M486.3,622.3h0M484.7,623.3h0M476.7,623.7h0M487.6,623.2h0M475.6,623.4h0M484.3,623.4h0M483.5,624.2h0M487.2,624.2h0M486.3,624.3h0M484.8,624.7h0M489.1,624.9h0M481.1,624.7h0M489.1,625.7h0M482.5,625.6h0M486.2,627.0h0M484.4,626.0h0M474.4,626.5h0M487.1,626.9h0M480.1,626.5h0M482.4,626.1h0M473.7,626.5h0M482.3,626.9h0M476.8,626.9h0M478.3,626.5h0M485.7,626.1h0M489.8,627.0h0M484.6,627.7h0M475.3,628.6h0M482.8,628.7h0M487.4,628.0h0M489.6,628.9h0M489.6,628.8h0M478.2,629.9h0M488.1,629.7h0M476.6,629.0h0M489.4,629.9h0M478.3,629.6h0M474.0,629.4h0M485.7,629.4h0M487.4,629.9h0M476.0,629.7h0M480.1,629.2h0M479.6,629.5h0M490.6,630.6h0M484.1,630.4h0M487.8,630.6h0M476.2,631.6h0M486.8,631.1h0M482.8,631.5h0M475.5,631.5h0M478.3,631.2h0M490.5,631.1h0M479.5,631.6h0M480.6,631.0h0M477.8,632.2h0M476.0,632.9h0M475.9,632.9h0M476.5,632.3h0M477.3,633.0h0M475.3,632.9h0M478.8,633.0h0M486.5,632.3h0M482.4,632.2h0M480.6,632.0h0M485.3,632.6h0M478.3,632.0h0M482.8,633.3h0M477.9,633.8h0M478.4,633.3h0M482.0,633.3h0M486.1,633.1h0M476.6,634.8h0M479.0,634.2h0M475.0,634.6h0M489.6,634.9h0M483.7,634.4h0M490.3,634.7h0M490.0,634.7h0M485.5,634.7h0M475.8,634.3h0M474.8,634.9h0M490.6,634.6h0M484.7,635.8h0M474.8,635.3h0M478.8,635.5h0M484.0,635.4h0M488.4,635.4h0M483.2,636.7h0M487.5,636.8h0M480.3,636.3h0M490.4,636.6h0M478.5,636.1h0M487.4,636.8h0M483.4,636.4h0M484.9,637.0h0M483.5,636.8h0M488.7,636.8h0M482.0,636.2h0M485.5,636.8h0M490.7,637.4h0M475.1,637.8h0M478.8,637.4h0M475.9,637.3h0M476.0,637.3h0M483.5,637.3h0M485.0,637.9h0M481.2,638.6h0M481.5,638.3h0M480.7,638.4h0M478.7,638.6h0M482.4,638.4h0M485.8,638.8h0M484.7,638.3h0M475.1,639.5h0M490.6,639.2h0M475.7,639.3h0M479.6,639.3h0M481.0,639.8h0M482.5,639.6h0M475.6,639.1h0M489.9,639.3h0M489.8,639.3h0M484.6,639.7h0M475.2,639.1h0M479.4,640.5h0M485.3,640.0h0M490.7,640.4h0M489.4,640.0h0M474.7,640.1h0M489.2,640.4h0M489.4,641.5h0M479.9,641.7h0M478.4,641.7h0M480.8,641.5h0M476.9,641.2h0M488.3,641.6h0M480.9,641.8h0M482.1,642.6h0M481.1,642.7h0M489.9,642.2h0M477.7,642.6h0M480.7,642.3h0M482.3,642.7h0M474.3,643.2h0M483.5,643.4h0M475.1,643.2h0M483.5,643.4h0M486.7,643.5h0M488.6,643.8h0M482.1,643.4h0M477.3,643.3h0M479.7,643.4h0M476.7,643.5h0M475.6,643.9h0M483.1,643.1h0M479.3,643.3h0M476.4,643.5h0M481.9,644.3h0M487.7,644.2h0M477.4,644.3h0M487.0,644.8h0M483.3,644.4h0M484.7,644.8h0M477.8,644.7h0M485.8,644.4h0M482.9,645.9h0M474.5,645.6h0M474.2,645.6h0M475.7,645.7h0M479.8,645.7h0M478.1,645.1h0M476.8,645.3h0M481.5,646.0h0M484.0,646.1h0M482.9,646.1h0M488.2,646.1h0M484.9,646.7h0M478.4,646.6h0M479.3,646.3h0M478.1,646.0h0M485.1,646.1h0M477.0,646.1h0M474.8,647.8h0M489.7,647.1h0M474.1,647.0h0M483.5,647.1h0M483.2,647.7h0M474.0,647.9h0M478.0,647.6h0M479.7,647.3h0M480.6,647.0h0M481.0,647.3h0M479.8,647.2h0M479.4,647.7h0M490.4,647.2h0M475.5,648.7h0M485.7,648.9h0M482.2,648.3h0M479.1,648.2h0M484.5,648.9h0M486.1,649.9h0M478.3,649.9h0M486.4,649.6h0M477.0,649.3h0M475.4,649.9h0M487.5,649.1h0M476.9,650.3h0M477.9,650.2h0M479.5,650.2h0M482.4,650.9h0M489.9,650.2h0M483.4,650.7h0M476.3,650.5h0M477.1,650.4h0M479.2,650.8h0M477.7,650.5h0M486.2,651.4h0M488.3,651.2h0M477.8,651.9h0M479.8,651.1h0M477.4,651.8h0M478.2,651.6h0M487.9,651.6h0M486.5,652.0h0M478.8,651.9h0M474.5,652.9h0M483.8,652.4h0M476.1,652.5h0M489.3,652.6h0M481.5,652.6h0M483.1,652.6h0M478.1,653.6h0M482.2,653.9h0M477.3,653.1h0M476.4,653.5h0M489.1,654.9h0M483.4,655.0h0M477.7,654.3h0M481.3,654.5h0M487.6,654.4h0M474.5,654.7h0M474.5,655.6h0M486.2,655.1h0M480.9,655.1h0M474.0,655.4h0M478.6,655.9h0M473.9,655.6h0M486.2,655.4h0M476.0,656.7h0M481.5,656.5h0M478.7,656.2h0M487.3,656.1h0M478.7,656.8h0M483.0,657.8h0M474.6,657.5h0M481.2,657.4h0M482.8,657.6h0M485.7,657.9h0M484.9,658.0h0M485.0,657.3h0M485.4,658.6h0M480.2,658.5h0M478.1,658.9h0M474.0,658.3h0M483.7,659.3h0M474.5,659.6h0M478.9,659.8h0M485.5,659.7h0M488.8,659.8h0M479.3,659.6h0M477.5,660.7h0M478.0,660.0h0M480.9,660.2h0M485.4,660.2h0M474.1,661.8h0M479.5,661.7h0M480.7,661.8h0M477.0,661.5h0M483.0,661.8h0M474.2,661.4h0M481.8,661.6h0M489.8,662.0h0M489.8,662.0h0M475.0,662.2h0M478.6,662.9h0M488.0,662.9h0M480.3,662.0h0M484.3,662.9h0M475.5,662.8h0M482.2,663.2h0M481.2,663.1h0M479.8,663.4h0M473.8,663.5h0M488.9,663.1h0M478.5,664.1h0M488.0,664.5h0M483.9,664.9h0M482.1,664.3h0M482.7,664.5h0M478.8,664.2h0M479.8,664.7h0M476.5,665.0h0M477.7,664.3h0M475.9,665.9h0M480.0,665.7h0M474.1,665.7h0M477.5,665.5h0M485.2,665.2h0M482.7,665.8h0M476.5,665.5h0M476.8,665.1h0M480.6,666.9h0M477.2,666.9h0M477.6,666.1h0M482.4,666.8h0M480.5,666.8h0M480.4,666.8h0M475.6,666.3h0M475.8,666.7h0M481.7,666.7h0M477.8,666.7h0M490.6,666.1h0M479.1,666.9h0M488.2,666.9h0M475.1,667.1h0M487.0,667.0h0M490.5,667.9h0M490.5,667.8h0M473.7,667.1h0M479.1,667.2h0M474.7,667.9h0M487.8,668.1h0M481.0,668.4h0M488.9,668.2h0M484.8,668.3h0M484.7,668.8h0M487.7,668.8h0M478.7,668.3h0M475.8,668.3h0M474.5,669.8h0M478.6,669.8h0M474.0,669.0h0M483.9,669.7h0M483.3,669.5h0M483.9,669.1h0M474.8,669.3h0M481.9,670.2h0M479.4,670.0h0M475.1,670.0h0M475.8,670.6h0M475.0,670.9h0M487.3,670.3h0M485.5,671.0h0M475.7,670.6h0M489.5,671.3h0M479.1,671.9h0M483.6,671.6h0M477.5,671.6h0M480.1,671.5h0M480.5,671.1h0M478.2,672.3h0M488.3,672.4h0M487.6,672.0h0M476.9,673.0h0M474.6,672.1h0M482.5,672.3h0M477.0,672.6h0M484.1,672.2h0M488.1,674.0h0M479.3,673.8h0M477.9,673.9h0M477.3,673.0h0M474.9,673.5h0M474.4,674.0h0M475.1,674.9h0M478.1,674.5h0M474.8,674.6h0M484.7,674.1h0M490.3,674.2h0M478.2,674.7h0M479.4,674.9h0M477.7,674.3h0M485.5,674.9h0M488.7,674.3h0M484.2,675.9h0M480.4,675.9h0M478.7,675.0h0M475.4,675.7h0M480.2,675.8h0M482.8,675.7h0M479.7,675.6h0M485.6,675.4h0M482.0,675.8h0M489.5,675.4h0M484.6,676.4h0M485.7,676.5h0M486.3,676.8h0M483.3,676.9h0M487.0,676.9h0M474.0,676.0h0M484.5,676.3h0M488.5,676.4h0M486.3,676.2h0M484.4,676.9h0M488.4,676.4h0M481.9,676.5h0M479.6,676.5h0M483.9,677.7h0M486.4,677.9h0M478.7,677.1h0M487.6,677.0h0M477.7,677.2h0M486.9,677.4h0M487.9,677.7h0M488.0,677.8h0M488.7,677.3h0M479.7,677.6h0M483.6,677.8h0M487.4,677.3h0M475.8,677.7h0M485.4,677.3h0M477.2,678.1h0M476.6,678.3h0M475.3,678.2h0M478.7,679.0h0M482.6,679.6h0M478.0,679.1h0M481.6,679.2h0M477.0,679.4h0M489.8,679.4h0M485.8,679.4h0M480.6,679.1h0M476.8,679.8h0M481.0,679.3h0M490.5,679.9h0M478.2,679.4h0M479.3,680.1h0M489.2,680.8h0M474.8,680.5h0M480.3,680.6h0M479.4,681.0h0M477.4,680.8h0M478.3,680.6h0M479.8,681.2h0M484.7,682.0h0M480.5,681.3h0M479.6,681.0h0M475.2,681.0h0M479.2,682.0h0M476.1,681.5h0M487.6,682.2h0M477.1,682.9h0M477.0,682.8h0M478.9,682.6h0M484.7,683.7h0M486.4,683.8h0M480.4,683.2h0M473.8,683.4h0M489.6,683.4h0M484.2,683.9h0M488.4,683.7h0M483.8,683.2h0M478.0,684.3h0M477.7,684.4h0M484.7,684.7h0M485.7,684.3h0M479.4,684.8h0M490.3,684.2h0M480.7,684.3h0M490.3,684.0h0M488.9,684.8h0M479.3,684.7h0M480.0,684.6h0M484.8,685.1h0M474.9,685.1h0M486.2,685.4h0M489.1,685.1h0M476.6,685.8h0M480.8,685.2h0M487.0,685.2h0M490.2,685.3h0M488.3,685.5h0M489.6,685.3h0M489.4,685.3h0M481.3,685.6h0M483.1,685.7h0M485.5,685.3h0M473.8,685.7h0M483.9,685.6h0M482.1,685.9h0M478.7,685.9h0M481.0,686.7h0M478.5,687.0h0M473.7,686.3h0M479.5,686.4h0M478.8,686.0h0M477.3,686.3h0M479.0,687.2h0M488.6,687.7h0M485.5,687.8h0M477.8,687.7h0M474.9,687.7h0M479.2,687.7h0M477.6,687.4h0M485.1,687.9h0M479.6,688.2h0M489.9,688.1h0M474.9,688.8h0M490.7,688.8h0M475.6,688.4h0M476.4,689.2h0M484.6,689.8h0M488.3,689.9h0M478.6,689.3h0M477.0,689.5h0M489.8,689.8h0M481.1,689.2h0M488.0,689.9h0M486.8,689.3h0M480.3,689.6h0M489.3,689.2h0M480.8,689.1h0M487.5,690.7h0M484.4,692.0h0M474.9,692.0h0M475.4,691.3h0M490.3,692.0h0M476.8,691.7h0M476.0,692.0h0M474.3,692.6h0M481.1,692.8h0M490.2,692.1h0M480.1,692.4h0M483.0,692.9h0M483.9,692.3h0M485.0,692.3h0M483.1,692.1h0M485.4,693.4h0M475.1,693.9h0M487.8,694.0h0M481.5,693.9h0M488.5,693.5h0M489.0,693.8h0M475.4,693.1h0M480.6,693.5h0M484.4,694.1h0M482.3,695.0h0M475.0,694.8h0M481.9,695.0h0M488.3,694.1h0M484.6,694.9h0M478.4,694.7h0M478.0,694.2h0M485.4,696.0h0M484.1,695.9h0M475.9,695.7h0M476.6,695.9h0M483.8,695.1h0M488.4,696.1h0M485.3,696.4h0M482.8,696.6h0M487.7,696.9h0M476.5,696.9h0M478.8,697.3h0M474.5,698.8h0M476.7,698.3h0M482.4,698.1h0M480.9,698.4h0M475.2,698.6h0M481.4,698.2h0M487.1,698.4h0M474.1,698.9h0M480.7,698.1h0M478.6,698.3h0M477.3,699.7h0M476.4,699.0h0M483.9,700.9h0M487.8,700.5h0M487.9,701.0h0M481.0,701.6h0M487.7,701.1h0M485.1,701.3h0M474.4,701.3h0M484.6,701.1h0M488.1,701.0h0M477.8,701.3h0M474.8,701.9h0M485.4,702.1h0M473.8,702.9h0M479.7,702.8h0M480.9,702.1h0M481.8,702.2h0M480.5,703.3h0M482.7,704.2h0M477.2,704.4h0M478.4,704.9h0M481.6,704.7h0M489.0,704.6h0M476.4,704.3h0M484.2,705.9h0M487.6,705.7h0M484.5,706.1h0M487.3,706.1h0M490.4,708.0h0M485.4,708.8h0M478.7,708.0h0M477.5,712.0h0M489.9,711.4h0M487.2,711.7h0M478.4,711.2h0M486.4,712.0h0M479.1,712.1h0M490.5,712.3h0M487.9,713.6h0M486.7,713.1h0M475.2,713.4h0M489.5,714.7h0M484.2,714.8h0M477.7,714.6h0M485.3,714.8h0M489.3,716.1h0M477.6,716.9h0M483.7,716.3h0M477.6,717.8h0M487.5,717.1h0M474.8,718.4h0M489.6,718.7h0M478.3,720.2h0M480.6,720.4h0M490.1,722.7h0M489.9,722.8h0M486.9,723.8h0M479.9,724.2h0M480.5,725.1h0M490.3,725.7h0M482.4,726.7h0M415.5,588.9h0M412.1,597.5h0M412.3,599.5h0M431.6,597.3h0M445.7,592.1h0M463.5,585.0h0M434.0,600.0h0M437.5,602.0h0M444.5,602.7h0M446.0,601.5h0M456.3,600.6h0M457.5,598.8h0M459.8,606.6h0M461.5,609.6h0M465.4,609.0h0M468.2,612.0h0M460.3,612.4h0M482.0,606.6h0M480.5,606.0h0M482.5,615.3h0M477.6,619.1h0M485.3,620.0h0M490.7,621.5h0M427.0,609.0h0M408.0,611.0h0M497.6,630.4h0M497.6,634.8h0M496.6,640.2h0M496.4,646.3h0M499.5,645.5h0M503.1,626.1h0M518.6,627.0h0M503.1,640.0h0M503.4,643.1h0M510.5,642.3h0M509.0,644.0h0M523.6,647.4h0M504.5,655.0h0M508.5,651.5h0M496.4,658.7h0M503.6,661.0h0M532.9,660.4h0M496.4,671.0h0M504.0,671.0h0M511.7,671.0h0M526.7,674.6h0M502.1,678.5h0M496.4,683.0h0M501.5,683.0h0M508.5,681.0h0M511.7,683.0h0M499.0,690.0h0M505.7,691.0h0M511.0,690.0h0M511.7,697.0h0M498.3,700.0h0M505.7,704.0h0M502.8,712.0h0M525.9,688.2h0" stroke="#000" stroke-width="3.1" stroke-linecap="round" fill="none"/>
<line x1="409.1" y1="745.4" x2="428.1" y2="745.4" stroke="#111" stroke-width="1.1"/>
<line x1="430.3" y1="745.4" x2="449.3" y2="745.4" stroke="#111" stroke-width="1.1"/>
<line x1="451.5" y1="745.4" x2="470.5" y2="745.4" stroke="#111" stroke-width="1.1"/>
<line x1="477.1" y1="745.4" x2="486.45" y2="745.4" stroke="#111" stroke-width="1.1"/>
<rect x="404.5" y="544.3" width="134.2" height="202" fill="none" stroke="#2b2b2b" stroke-width="1.1"/>
<line x1="404.5" y1="565.05" x2="538.7" y2="565.05" stroke="#0a0a0a" stroke-width="1.5"/>
<line x1="418.6" y1="746.3" x2="418.6" y2="750.7" stroke="#222222" stroke-width="1.1"/>
<line x1="461" y1="746.3" x2="461" y2="750.7" stroke="#222222" stroke-width="1.1"/>
<line x1="503.4" y1="746.3" x2="503.4" y2="750.7" stroke="#222222" stroke-width="1.1"/>
<text x="0" y="0" transform="translate(418.6,760.4) scale(1,1.1)" font-size="9" font-weight="bold" text-anchor="middle" fill="#000">0</text>
<text x="0" y="0" transform="translate(461,760.4) scale(1,1.1)" font-size="9" font-weight="bold" text-anchor="middle" fill="#000">2</text>
<text x="0" y="0" transform="translate(503.4,760.4) scale(1,1.1)" font-size="9" font-weight="bold" text-anchor="middle" fill="#000">4</text>
<rect x="541.3" y="565.4" width="134.5" height="180.9" fill="#f6f6f6"/>
<line x1="541.3" y1="600.7" x2="675.8" y2="600.7" stroke="#fff" stroke-width="0.5"/>
<line x1="541.3" y1="655.7" x2="675.8" y2="655.7" stroke="#fff" stroke-width="0.5"/>
<line x1="541.3" y1="710.7" x2="675.8" y2="710.7" stroke="#fff" stroke-width="0.5"/>
<line x1="567" y1="565.4" x2="567" y2="746.3" stroke="#fff" stroke-width="0.5"/>
<line x1="595.2" y1="565.4" x2="595.2" y2="746.3" stroke="#fff" stroke-width="0.5"/>
<line x1="623.4" y1="565.4" x2="623.4" y2="746.3" stroke="#fff" stroke-width="0.5"/>
<line x1="651.6" y1="565.4" x2="651.6" y2="746.3" stroke="#fff" stroke-width="0.5"/>
<line x1="541.3" y1="573.2" x2="675.8" y2="573.2" stroke="#fff" stroke-width="1"/>
<line x1="541.3" y1="628.2" x2="675.8" y2="628.2" stroke="#fff" stroke-width="1"/>
<line x1="541.3" y1="683.2" x2="675.8" y2="683.2" stroke="#fff" stroke-width="1"/>
<line x1="541.3" y1="738.2" x2="675.8" y2="738.2" stroke="#fff" stroke-width="1"/>
<line x1="552.9" y1="565.4" x2="552.9" y2="746.3" stroke="#fff" stroke-width="1"/>
<line x1="581.1" y1="565.4" x2="581.1" y2="746.3" stroke="#fff" stroke-width="1"/>
<line x1="609.3" y1="565.4" x2="609.3" y2="746.3" stroke="#fff" stroke-width="1"/>
<line x1="637.5" y1="565.4" x2="637.5" y2="746.3" stroke="#fff" stroke-width="1"/>
<line x1="665.7" y1="565.4" x2="665.7" y2="746.3" stroke="#fff" stroke-width="1"/>
<rect x="541.3" y="544.3" width="134.5" height="20.3" fill="#e4e4e4"/>
<text x="0" y="0" transform="translate(608.55,558.2) scale(1,1.1)" font-size="9.7" font-weight="bold" text-anchor="middle" fill="#000">MHC class II</text>
<text x="0" y="0" transform="translate(545.6,576.2) scale(1,1.1)" font-size="8.25" font-weight="normal" text-anchor="start" fill="#1a1a1a">ß=4.98e−08 (4.46e−08−5.51e−08)</text>
<rect x="561.6" y="624.5" width="10.8" height="89" fill="#000"/>
<rect x="575.7" y="620" width="10.8" height="95.5" fill="#000"/>
<rect x="589.8" y="622.5" width="10.8" height="89" fill="#000"/>
<rect x="603.9" y="618.5" width="10.8" height="89" fill="#000"/>
<path d="M556.5,614.5h0M546.9,615.1h0M556.9,618.5h0M557.0,618.4h0M552.5,619.3h0M553.2,622.7h0M553.8,623.4h0M549.7,623.3h0M549.6,623.5h0M550.2,626.0h0M553.9,625.1h0M551.7,626.2h0M553.4,626.8h0M548.6,627.6h0M552.1,629.2h0M553.1,629.2h0M548.5,630.0h0M557.5,629.1h0M551.0,631.0h0M549.4,631.1h0M554.5,631.6h0M557.7,631.1h0M556.6,631.9h0M555.9,631.1h0M550.9,632.8h0M555.0,633.1h0M556.4,633.6h0M550.2,634.4h0M556.3,634.9h0M557.1,634.6h0M557.4,634.1h0M556.4,636.0h0M548.9,635.6h0M547.0,635.7h0M547.6,635.7h0M557.3,636.3h0M558.2,637.9h0M553.6,637.2h0M552.9,637.3h0M550.7,637.3h0M549.3,637.0h0M551.3,638.7h0M553.9,638.5h0M555.6,639.6h0M556.7,639.1h0M548.4,639.6h0M555.7,639.1h0M547.3,639.3h0M551.0,639.1h0M548.1,639.2h0M547.1,639.1h0M547.2,639.4h0M549.1,640.9h0M556.7,640.6h0M554.3,640.7h0M556.8,640.2h0M556.5,640.6h0M548.3,641.3h0M548.9,641.1h0M555.7,641.3h0M553.7,641.3h0M558.7,641.6h0M548.6,641.8h0M548.8,643.0h0M549.4,642.3h0M551.8,642.1h0M549.6,642.4h0M553.9,642.5h0M556.9,643.0h0M553.4,643.3h0M549.4,643.9h0M549.5,643.8h0M557.1,644.0h0M548.3,643.2h0M548.2,644.7h0M554.4,644.0h0M553.9,644.2h0M550.4,644.1h0M549.8,645.4h0M550.6,645.8h0M551.4,645.4h0M552.9,645.6h0M551.1,645.0h0M555.7,645.1h0M557.2,645.2h0M550.0,645.5h0M557.9,646.9h0M550.0,646.9h0M547.1,646.7h0M547.2,646.4h0M551.9,646.4h0M555.9,647.1h0M547.6,647.2h0M558.6,647.4h0M552.3,648.9h0M558.4,648.7h0M551.3,648.4h0M547.0,648.2h0M556.2,648.5h0M557.2,648.7h0M553.7,648.8h0M552.9,648.7h0M552.3,649.4h0M552.4,649.2h0M556.5,649.9h0M552.9,649.9h0M550.4,649.9h0M558.6,649.7h0M558.5,649.7h0M556.8,650.2h0M555.1,650.2h0M556.0,651.0h0M550.3,651.9h0M556.9,651.9h0M553.1,651.7h0M558.1,651.7h0M547.9,651.2h0M551.5,653.6h0M554.0,654.6h0M553.3,654.2h0M557.9,654.5h0M547.3,654.3h0M555.6,654.2h0M556.2,654.2h0M555.9,655.9h0M550.3,655.0h0M553.2,655.2h0M557.4,655.2h0M549.3,656.9h0M554.1,656.7h0M557.9,657.3h0M548.9,657.6h0M547.9,657.8h0M555.4,657.4h0M553.1,657.5h0M547.8,657.1h0M549.1,658.4h0M557.0,659.6h0M549.0,659.7h0M554.4,659.6h0M552.6,659.8h0M555.7,659.6h0M547.7,659.2h0M558.6,659.4h0M548.8,660.3h0M552.2,661.0h0M553.0,660.7h0M555.7,660.0h0M549.7,660.5h0M547.6,660.2h0M555.9,660.7h0M555.5,661.7h0M558.8,661.1h0M556.1,661.5h0M549.9,661.5h0M548.2,662.7h0M553.4,663.6h0M547.4,663.4h0M556.4,663.7h0M557.6,663.3h0M552.6,663.2h0M549.1,663.1h0M549.3,663.2h0M554.5,665.0h0M556.7,664.1h0M554.6,664.1h0M554.4,664.8h0M555.3,664.1h0M552.0,664.2h0M554.8,664.7h0M555.7,664.4h0M553.7,665.7h0M549.7,665.0h0M546.9,665.7h0M547.0,665.4h0M552.7,666.4h0M557.2,666.7h0M551.6,666.1h0M553.0,667.0h0M548.2,667.2h0M553.3,667.7h0M555.5,667.7h0M555.0,667.0h0M551.0,668.0h0M557.3,669.0h0M554.3,668.3h0M552.3,668.9h0M547.5,669.1h0M547.7,669.2h0M556.2,669.6h0M555.7,669.6h0M551.1,669.8h0M548.9,669.4h0M551.9,669.7h0M556.0,669.6h0M548.6,670.2h0M549.0,670.5h0M554.9,670.7h0M549.4,670.3h0M548.6,670.7h0M551.9,670.3h0M549.6,670.9h0M552.7,671.0h0M557.8,671.9h0M552.0,671.9h0M549.1,671.4h0M552.2,671.2h0M552.7,671.8h0M548.2,671.5h0M558.1,672.9h0M552.9,672.3h0M549.8,672.8h0M556.0,672.8h0M556.9,672.6h0M557.7,672.7h0M554.2,673.2h0M547.1,673.8h0M556.0,673.7h0M553.9,673.7h0M555.5,673.5h0M554.8,673.2h0M553.3,673.6h0M553.7,673.3h0M548.4,673.7h0M548.3,673.8h0M549.1,673.8h0M551.2,673.9h0M549.6,673.2h0M555.0,673.8h0M548.7,674.9h0M548.4,675.0h0M557.0,674.4h0M557.2,674.1h0M553.7,674.4h0M550.5,674.9h0M555.0,675.3h0M553.2,675.9h0M557.3,676.8h0M558.4,676.2h0M549.5,676.8h0M553.1,676.2h0M547.1,676.2h0M556.8,677.4h0M549.7,677.4h0M558.0,677.6h0M548.2,677.4h0M552.5,677.0h0M558.4,677.9h0M548.1,677.6h0M550.7,677.2h0M555.3,678.8h0M553.8,678.3h0M548.6,678.7h0M557.4,679.6h0M548.0,679.7h0M547.6,679.6h0M555.5,680.7h0M549.4,680.9h0M554.7,680.2h0M551.4,680.1h0M552.1,681.0h0M551.5,680.4h0M556.5,680.1h0M548.3,680.7h0M548.5,680.6h0M558.3,681.7h0M555.3,681.6h0M550.8,681.6h0M547.0,681.4h0M558.5,682.3h0M554.2,682.9h0M556.7,682.5h0M549.2,682.6h0M554.0,682.1h0M551.5,682.9h0M548.8,683.2h0M558.3,683.4h0M551.1,684.0h0M549.4,683.6h0M558.3,683.9h0M548.8,683.5h0M548.5,684.7h0M550.3,684.4h0M550.2,684.4h0M550.6,684.4h0M548.3,685.9h0M547.4,685.3h0M557.3,685.1h0M549.4,685.3h0M553.6,686.5h0M552.2,686.3h0M558.8,686.4h0M554.6,686.6h0M558.4,686.2h0M556.9,687.0h0M557.2,687.0h0M556.2,687.6h0M547.2,687.8h0M553.9,687.1h0M557.4,687.6h0M552.5,687.9h0M549.3,687.2h0M554.2,688.4h0M553.1,688.6h0M548.5,688.9h0M556.8,688.2h0M549.6,688.4h0M556.2,688.5h0M553.7,689.6h0M558.6,689.3h0M552.4,689.9h0M548.5,689.9h0M551.3,689.3h0M552.8,690.3h0M556.9,690.4h0M554.3,690.9h0M549.8,691.0h0M552.7,690.6h0M550.2,690.7h0M557.9,691.6h0M554.3,691.6h0M547.4,691.3h0M548.0,691.6h0M551.8,692.2h0M550.6,692.2h0M549.1,692.7h0M554.1,692.8h0M548.4,693.3h0M555.3,693.6h0M555.1,693.0h0M549.9,693.6h0M554.8,693.4h0M549.5,693.3h0M556.0,693.7h0M552.2,694.8h0M553.7,694.7h0M558.3,694.4h0M555.6,696.0h0M558.1,695.4h0M552.3,695.8h0M558.7,695.4h0M551.8,696.5h0M556.5,696.3h0M554.7,696.7h0M553.2,696.6h0M555.5,697.4h0M553.0,697.5h0M555.7,697.5h0M554.5,697.2h0M547.7,697.7h0M558.8,697.1h0M557.8,697.4h0M554.4,698.1h0M558.6,698.6h0M558.6,698.2h0M555.4,698.2h0M547.9,698.4h0M552.6,698.6h0M556.3,699.7h0M555.6,699.9h0M557.1,699.2h0M558.6,699.5h0M555.5,700.3h0M555.2,700.7h0M554.3,700.1h0M553.7,700.4h0M558.1,701.6h0M549.5,701.5h0M557.1,701.7h0M556.9,701.0h0M558.5,701.9h0M552.9,701.9h0M549.1,701.4h0M548.9,701.7h0M557.9,701.9h0M557.6,702.5h0M547.4,702.4h0M555.1,702.9h0M557.8,703.0h0M558.6,703.6h0M550.3,704.1h0M550.1,704.7h0M553.5,704.6h0M553.2,704.9h0M555.3,705.6h0M554.9,705.6h0M555.8,705.4h0M558.1,705.6h0M551.1,706.4h0M550.3,706.6h0M557.2,706.6h0M549.3,706.0h0M557.4,706.3h0M558.2,707.7h0M547.9,707.8h0M548.8,708.0h0M547.5,707.8h0M548.7,707.5h0M555.5,708.9h0M547.7,708.7h0M557.5,710.4h0M550.6,711.0h0M550.9,711.9h0M554.1,712.8h0M547.0,712.8h0M552.2,714.0h0M554.7,716.3h0M556.3,717.5h0M557.2,718.4h0M566.9,607.8h0M565.4,612.9h0M570.9,612.1h0M572.7,613.3h0M568.1,613.5h0M570.4,615.7h0M562.2,615.1h0M562.6,616.5h0M563.1,616.9h0M566.9,618.1h0M561.6,618.9h0M571.2,618.8h0M562.2,618.6h0M569.6,618.4h0M566.6,619.3h0M566.3,619.6h0M570.8,620.1h0M568.1,620.6h0M562.3,620.2h0M569.1,620.9h0M565.7,620.5h0M569.5,620.6h0M562.9,621.8h0M563.7,621.4h0M571.6,621.1h0M569.1,621.2h0M568.5,621.8h0M570.8,621.8h0M570.0,622.1h0M572.2,622.2h0M569.6,622.4h0M563.9,623.6h0M572.1,623.9h0M567.9,623.4h0M570.0,623.6h0M570.9,623.8h0M569.4,624.0h0M568.8,624.0h0M568.8,623.2h0M568.5,623.8h0M561.8,624.8h0M571.1,625.0h0M561.7,625.2h0M562.5,625.6h0M563.2,625.4h0M561.9,625.1h0M561.0,625.1h0M572.6,625.7h0M572.3,625.0h0M562.0,626.8h0M572.8,626.6h0M571.8,626.2h0M572.6,626.4h0M561.8,627.8h0M571.0,627.7h0M571.1,627.2h0M570.9,627.6h0M561.2,628.0h0M571.8,628.4h0M572.9,629.3h0M562.9,631.0h0M572.6,630.5h0M562.1,631.5h0M561.5,631.6h0M562.2,632.0h0M561.1,631.3h0M572.3,631.4h0M561.5,632.2h0M562.3,632.3h0M561.6,632.5h0M561.9,634.0h0M571.9,633.6h0M562.5,634.6h0M572.1,634.6h0M571.9,634.1h0M571.0,634.1h0M562.8,635.5h0M561.5,635.8h0M562.8,635.5h0M570.9,635.8h0M570.9,635.3h0M571.8,635.9h0M563.1,636.7h0M561.1,636.3h0M572.0,636.7h0M572.8,637.8h0M571.5,637.5h0M562.8,638.6h0M561.7,638.6h0M561.1,639.1h0M561.7,639.6h0M562.6,639.7h0M570.9,639.2h0M571.6,639.1h0M572.5,639.9h0M572.1,639.6h0M572.5,639.5h0M571.3,640.4h0M572.3,640.5h0M570.9,640.7h0M571.5,640.1h0M571.2,640.4h0M561.2,641.3h0M561.4,641.7h0M561.3,641.1h0M571.3,641.3h0M561.5,642.4h0M562.7,642.9h0M561.3,642.0h0M571.4,642.7h0M563.1,643.0h0M561.0,643.0h0M572.3,643.1h0M572.1,643.2h0M571.0,643.8h0M572.4,643.5h0M572.0,643.6h0M563.1,644.2h0M562.4,644.1h0M562.2,645.0h0M570.8,644.5h0M561.9,645.7h0M561.9,645.2h0M561.9,645.1h0M571.4,646.6h0M571.2,646.2h0M562.0,647.6h0M562.3,647.9h0M571.3,647.6h0M572.4,647.8h0M572.7,647.0h0M562.4,648.3h0M572.0,648.8h0M571.0,649.0h0M572.1,648.3h0M572.3,648.8h0M562.3,649.2h0M561.2,649.4h0M561.6,649.2h0M563.1,649.7h0M572.2,649.9h0M570.9,649.8h0M561.2,650.1h0M572.8,650.1h0M561.9,652.0h0M561.5,651.1h0M571.8,651.3h0M570.9,652.2h0M572.5,652.4h0M572.5,652.2h0M562.8,653.5h0M562.2,654.2h0M571.0,654.2h0M572.3,654.8h0M572.0,654.4h0M561.6,655.2h0M562.5,655.9h0M562.7,655.3h0M562.5,655.4h0M562.8,655.5h0M561.5,655.3h0M562.0,656.7h0M571.7,656.1h0M572.9,656.6h0M572.6,656.8h0M571.5,656.5h0M561.7,657.5h0M571.7,657.9h0M562.5,658.4h0M571.8,658.0h0M571.2,658.1h0M570.8,659.0h0M562.3,659.7h0M561.3,659.8h0M561.7,659.5h0M571.1,659.8h0M571.5,660.4h0M571.0,660.7h0M572.3,660.9h0M571.3,660.2h0M562.7,661.1h0M572.4,661.1h0M572.9,661.6h0M561.1,662.3h0M572.8,662.1h0M572.8,662.7h0M562.3,663.1h0M562.7,663.8h0M562.5,663.2h0M572.0,663.9h0M571.5,663.4h0M571.5,663.1h0M572.1,663.8h0M562.5,664.4h0M561.5,664.0h0M562.3,664.2h0M562.3,664.4h0M571.8,664.4h0M572.7,664.4h0M561.6,665.5h0M562.2,665.1h0M572.5,666.0h0M570.9,665.5h0M562.9,666.0h0M561.1,666.3h0M572.4,667.0h0M562.9,667.5h0M571.5,667.5h0M572.4,667.5h0M562.7,668.7h0M561.5,668.7h0M561.4,668.1h0M572.7,668.6h0M562.0,669.1h0M571.5,669.5h0M571.7,669.7h0M571.0,669.4h0M561.4,670.4h0M563.0,671.0h0M572.3,670.9h0M562.8,671.5h0M570.9,671.5h0M572.6,671.9h0M572.1,671.7h0M561.1,672.5h0M561.0,673.0h0M562.5,672.4h0M572.8,672.9h0M571.0,672.3h0M572.1,672.4h0M562.6,673.6h0M561.2,673.1h0M571.6,674.0h0M562.5,674.3h0M562.7,674.7h0M561.3,674.8h0M562.8,675.4h0M561.1,675.1h0M561.3,675.6h0M562.4,675.8h0M561.6,675.8h0M571.6,675.4h0M562.9,676.9h0M561.4,676.3h0M572.2,676.8h0M561.7,677.3h0M570.8,677.1h0M561.5,678.4h0M562.3,678.5h0M562.7,678.5h0M561.8,678.5h0M562.1,678.0h0M572.1,678.7h0M571.9,678.4h0M561.5,679.7h0M562.1,679.9h0M561.0,679.8h0M571.5,679.5h0M572.5,679.1h0M572.1,679.6h0M561.3,680.7h0M571.2,680.2h0M572.9,680.4h0M572.0,680.2h0M562.5,681.1h0M561.6,681.4h0M571.6,681.1h0M571.7,682.0h0M561.8,682.8h0M561.3,682.7h0M561.7,682.9h0M572.4,682.5h0M562.3,683.6h0M562.3,683.3h0M561.6,683.3h0M561.1,683.2h0M571.5,683.5h0M571.4,683.4h0M570.8,684.6h0M571.7,684.6h0M572.4,684.3h0M571.1,684.6h0M570.9,684.2h0M571.7,684.6h0M572.6,685.6h0M571.5,685.9h0M561.2,686.6h0M561.7,686.5h0M562.7,686.1h0M562.9,686.0h0M562.1,686.2h0M561.2,687.8h0M572.9,687.9h0M572.8,687.8h0M571.8,687.5h0M571.3,688.7h0M571.4,689.2h0M563.1,690.8h0M572.6,690.9h0M572.9,690.8h0M562.9,691.8h0M561.8,692.4h0M572.4,692.3h0M561.7,693.0h0M562.6,693.6h0M561.4,693.5h0M563.1,693.6h0M561.7,693.8h0M572.8,694.0h0M572.1,694.3h0M561.9,695.8h0M571.2,695.9h0M561.2,696.4h0M561.2,697.0h0M572.6,696.9h0M571.9,696.7h0M562.6,697.4h0M562.9,698.0h0M562.4,698.5h0M561.8,698.9h0M561.2,698.5h0M572.7,698.0h0M572.6,698.9h0M571.1,698.8h0M562.8,699.0h0M561.4,699.6h0M572.9,700.0h0M561.9,700.6h0M572.0,700.0h0M572.2,700.4h0M572.7,700.8h0M572.4,700.1h0M572.7,700.0h0M563.1,701.4h0M562.0,701.7h0M563.0,701.9h0M572.3,701.8h0M570.9,701.7h0M571.4,701.8h0M561.5,702.1h0M562.0,702.1h0M571.5,702.1h0M571.1,702.0h0M572.8,702.3h0M571.4,703.9h0M562.9,704.7h0M561.0,704.3h0M562.6,704.0h0M572.1,704.7h0M572.0,704.3h0M572.4,704.4h0M572.2,704.8h0M571.3,704.8h0M571.1,704.4h0M562.5,705.5h0M562.5,705.7h0M570.9,705.9h0M571.9,705.7h0M572.8,707.0h0M571.1,706.2h0M571.2,706.8h0M561.7,707.2h0M562.3,707.6h0M571.2,707.3h0M563.0,708.6h0M562.7,708.3h0M572.4,708.4h0M561.6,709.0h0M563.0,709.1h0M562.2,709.7h0M572.7,709.6h0M571.9,709.6h0M571.6,710.0h0M563.1,710.5h0M561.0,710.9h0M561.6,710.8h0M571.9,710.3h0M572.3,710.5h0M572.1,710.3h0M572.3,710.3h0M572.6,710.6h0M572.8,710.2h0M561.6,711.1h0M572.2,711.6h0M572.8,712.0h0M572.7,711.9h0M563.0,712.5h0M561.9,712.2h0M571.4,712.7h0M571.9,712.5h0M571.8,712.3h0M563.1,713.1h0M562.6,713.7h0M561.8,714.0h0M567.7,714.4h0M569.3,714.5h0M565.2,714.0h0M564.7,714.4h0M565.0,714.4h0M568.8,714.3h0M572.5,715.2h0M571.8,715.0h0M571.3,715.6h0M569.2,715.4h0M565.7,715.2h0M562.7,715.6h0M565.1,715.0h0M566.5,716.9h0M568.0,716.7h0M572.5,717.1h0M570.5,717.7h0M569.7,717.4h0M562.0,717.1h0M569.1,717.3h0M564.5,718.3h0M565.2,718.4h0M563.7,718.2h0M572.2,719.3h0M563.3,719.0h0M564.2,719.1h0M568.5,719.6h0M570.4,722.0h0M561.7,721.5h0M563.7,721.9h0M562.1,721.8h0M563.5,721.6h0M566.8,722.1h0M562.5,722.2h0M566.8,724.1h0M563.6,724.6h0M572.8,726.0h0M570.1,726.2h0M572.9,727.0h0M570.8,728.5h0M568.7,730.0h0M569.5,731.7h0M586.1,605.0h0M576.1,607.8h0M576.3,608.8h0M582.6,609.5h0M579.8,609.4h0M583.2,610.0h0M582.6,610.6h0M583.0,611.7h0M584.8,613.8h0M577.7,613.1h0M584.2,613.1h0M582.8,614.9h0M575.1,614.9h0M578.8,614.4h0M586.4,614.8h0M583.0,615.5h0M585.7,615.0h0M582.8,616.8h0M586.0,616.1h0M586.0,617.6h0M585.9,617.1h0M582.4,617.4h0M576.4,617.4h0M581.1,618.3h0M581.9,618.1h0M586.7,618.4h0M575.2,618.3h0M586.5,618.3h0M579.7,619.0h0M584.5,618.4h0M577.1,618.4h0M583.9,619.4h0M584.4,619.0h0M585.3,619.7h0M576.9,619.3h0M578.8,619.5h0M586.0,620.0h0M582.3,619.1h0M586.8,620.0h0M576.2,619.7h0M583.1,619.7h0M583.8,619.0h0M578.8,619.3h0M575.7,620.2h0M576.2,621.2h0M585.4,621.7h0M575.9,622.5h0M586.7,622.7h0M585.4,623.2h0M584.9,623.9h0M575.2,624.4h0M576.0,624.4h0M587.0,624.5h0M585.2,624.4h0M586.9,624.1h0M586.6,624.9h0M586.4,624.9h0M585.0,624.8h0M575.6,625.0h0M577.1,625.2h0M586.1,625.7h0M586.7,625.3h0M576.9,627.0h0M575.5,627.9h0M575.5,627.9h0M585.8,627.4h0M586.9,627.8h0M585.1,628.0h0M577.2,628.7h0M576.6,628.7h0M584.9,628.0h0M586.5,628.5h0M587.1,629.4h0M586.8,629.4h0M586.2,629.4h0M577.1,630.3h0M575.4,630.4h0M586.7,630.1h0M586.1,630.7h0M586.5,631.0h0M587.1,630.8h0M577.1,631.4h0M575.7,631.0h0M585.0,632.0h0M586.9,632.6h0M576.5,633.8h0M576.8,633.6h0M576.2,633.6h0M586.1,633.4h0M585.2,633.2h0M586.1,633.8h0M575.9,634.1h0M576.1,634.4h0M575.8,634.8h0M585.1,634.2h0M586.5,634.8h0M586.8,635.0h0M585.1,634.0h0M585.7,634.9h0M576.4,635.7h0M577.2,635.1h0M575.6,635.0h0M576.4,636.3h0M577.3,636.2h0M586.9,636.4h0M586.7,636.0h0M576.5,637.5h0M576.6,637.4h0M586.2,637.9h0M575.5,638.3h0M586.3,639.0h0M576.2,640.0h0M576.8,639.9h0M585.6,639.0h0M586.9,639.9h0M577.2,640.3h0M575.4,640.4h0M585.2,640.9h0M577.0,641.4h0M586.1,641.3h0M575.2,642.9h0M585.5,642.3h0M575.2,643.9h0M575.6,643.9h0M585.2,644.0h0M585.5,643.1h0M575.4,644.0h0M576.4,644.4h0M575.3,644.5h0M577.0,644.1h0M586.0,644.3h0M576.4,645.4h0M584.9,645.0h0M575.4,646.3h0M585.7,646.0h0M585.1,646.7h0M585.1,646.2h0M577.0,647.7h0M576.8,647.2h0M586.8,647.9h0M586.2,647.3h0M575.5,648.6h0M577.1,648.7h0M586.3,648.4h0M586.5,648.8h0M576.1,650.0h0M585.3,649.4h0M587.1,649.5h0M575.7,650.0h0M586.1,650.5h0M585.1,650.3h0M586.8,650.1h0M586.4,650.6h0M576.0,651.4h0M575.3,651.6h0M576.8,651.0h0M585.4,651.6h0M586.6,652.7h0M577.1,653.1h0M576.8,653.4h0M577.0,653.0h0M576.4,653.1h0M585.6,653.5h0M586.6,653.5h0M576.7,654.7h0M587.0,654.7h0M586.5,654.4h0M585.7,654.5h0M586.5,654.9h0M585.1,655.9h0M576.7,656.2h0M576.1,656.3h0M576.5,656.6h0M577.1,656.8h0M575.2,656.2h0M575.2,656.7h0M585.0,656.8h0M585.4,656.6h0M576.6,657.2h0M576.2,657.6h0M575.8,657.0h0M577.2,657.8h0M585.0,657.6h0M585.5,657.8h0M585.4,658.3h0M585.2,658.8h0M586.3,658.6h0M586.1,658.9h0M576.3,659.0h0M575.8,660.3h0M575.7,660.4h0M586.9,661.8h0M585.3,661.8h0M585.5,661.3h0M576.3,662.3h0M577.2,662.7h0M585.5,662.8h0M576.2,663.6h0M585.6,663.9h0M576.6,664.3h0M576.3,664.4h0M577.2,665.5h0M577.1,665.4h0M586.7,665.1h0M586.9,665.7h0M577.2,666.2h0M575.7,666.3h0M585.3,666.1h0M576.8,667.1h0M586.5,667.9h0M586.9,667.9h0M586.8,667.2h0M575.4,668.9h0M576.4,668.9h0M576.4,668.6h0M585.8,668.3h0M585.7,669.0h0M575.2,669.0h0M575.6,669.3h0M575.8,669.7h0M586.2,669.1h0M587.1,669.9h0M586.8,669.9h0M586.2,669.1h0M585.3,669.7h0M576.0,670.7h0M577.1,670.8h0M577.1,670.5h0M576.1,670.5h0M586.2,670.6h0M585.3,670.9h0M575.4,672.0h0M576.6,671.1h0M577.1,671.1h0M576.3,671.4h0M575.7,671.2h0M575.3,671.4h0M575.3,671.6h0M586.9,672.0h0M585.8,671.5h0M585.6,671.2h0M586.1,671.1h0M585.1,671.5h0M586.5,672.1h0M585.7,672.1h0M586.3,672.9h0M585.1,672.8h0M586.7,672.9h0M576.7,674.0h0M586.4,673.6h0M586.8,673.5h0M586.8,673.5h0M585.1,673.9h0M575.5,674.1h0M576.0,674.1h0M576.6,674.2h0M576.6,674.6h0M576.6,674.7h0M586.0,674.1h0M585.0,674.9h0M586.9,674.0h0M575.8,675.6h0M576.0,675.4h0M577.0,676.5h0M586.2,677.0h0M585.2,676.4h0M586.3,676.8h0M576.0,678.3h0M577.0,678.2h0M577.0,678.7h0M577.0,678.6h0M575.3,679.3h0M575.4,679.1h0M586.8,679.8h0M585.8,679.6h0M585.4,679.8h0M585.5,679.0h0M585.9,679.8h0M576.2,680.6h0M577.1,680.9h0M575.2,680.1h0M575.9,680.8h0M585.8,680.9h0M575.2,681.5h0M585.0,681.7h0M586.4,681.2h0M585.6,681.5h0M585.8,681.1h0M585.4,681.9h0M577.2,683.0h0M576.2,683.7h0M575.9,683.3h0M586.3,683.9h0M585.3,683.2h0M585.8,683.0h0M575.8,684.2h0M576.6,684.4h0M575.1,684.2h0M585.9,684.6h0M585.7,684.7h0M575.2,685.7h0M575.9,685.6h0M575.9,685.5h0M585.6,685.2h0M585.4,685.2h0M575.8,687.4h0M577.0,687.9h0M575.9,688.9h0M576.2,688.9h0M576.9,689.0h0M576.6,688.1h0M586.3,688.2h0M586.8,688.6h0M576.5,689.3h0M576.2,689.9h0M576.8,690.2h0M586.0,690.1h0M586.5,690.4h0M585.1,690.6h0M575.8,691.8h0M576.8,691.6h0M586.8,691.4h0M586.8,691.2h0M576.5,692.4h0M577.2,692.3h0M575.6,692.8h0M576.9,692.7h0M576.8,692.2h0M586.6,692.3h0M586.0,693.0h0M585.6,692.7h0M575.4,693.8h0M575.5,693.4h0M576.4,693.8h0M576.5,694.6h0M585.0,694.4h0M586.1,694.1h0M577.1,695.3h0M585.6,695.6h0M576.7,696.0h0M575.8,696.8h0M586.7,696.0h0M585.5,696.8h0M587.0,696.5h0M585.3,696.6h0M576.2,697.3h0M576.0,697.5h0M575.3,697.6h0M587.0,697.7h0M586.3,697.6h0M575.7,698.5h0M586.1,698.7h0M586.3,698.1h0M575.2,699.6h0M575.3,699.4h0M575.2,699.6h0M585.0,699.9h0M586.0,699.5h0M575.9,700.1h0M576.0,700.2h0M586.5,700.2h0M586.9,700.1h0M577.0,702.0h0M585.8,701.9h0M586.5,701.6h0M576.4,702.7h0M585.4,702.3h0M585.4,702.2h0M576.5,703.8h0M575.1,703.3h0M585.6,703.1h0M585.1,703.1h0M586.2,703.4h0M576.8,705.0h0M576.9,704.7h0M587.1,704.1h0M575.7,705.4h0M586.5,705.4h0M577.1,706.7h0M586.5,706.8h0M587.1,706.6h0M585.2,706.9h0M585.1,706.4h0M585.8,707.7h0M575.3,708.8h0M576.2,708.2h0M586.0,708.4h0M586.9,708.1h0M586.6,708.4h0M577.2,709.4h0M576.8,709.3h0M576.7,709.7h0M576.2,710.2h0M585.8,710.8h0M576.1,711.9h0M575.3,711.9h0M575.1,711.9h0M576.8,712.2h0M575.3,713.7h0M577.0,713.2h0M577.1,713.0h0M576.8,713.6h0M586.1,713.5h0M586.7,713.0h0M575.3,714.3h0M586.5,714.6h0M585.1,715.2h0M586.0,715.7h0M586.4,715.5h0M587.0,715.7h0M586.7,715.3h0M579.5,716.2h0M580.7,716.8h0M581.4,716.2h0M583.9,717.0h0M580.8,716.1h0M583.9,716.5h0M584.8,716.6h0M585.6,716.0h0M584.2,717.1h0M577.0,717.9h0M584.0,717.3h0M578.8,717.4h0M577.9,717.1h0M577.8,718.6h0M587.0,718.4h0M577.7,718.5h0M577.4,718.3h0M583.9,718.2h0M576.8,720.0h0M585.5,719.9h0M578.0,720.1h0M581.5,720.4h0M582.0,721.1h0M577.8,724.5h0M575.2,724.3h0M582.1,725.4h0M581.8,729.3h0M578.5,731.5h0M580.2,732.5h0M591.8,607.1h0M595.5,608.6h0M593.6,608.9h0M597.3,610.8h0M599.0,610.7h0M596.4,614.9h0M600.2,614.9h0M595.4,615.7h0M599.9,616.8h0M599.6,616.4h0M589.6,617.1h0M598.4,617.9h0M593.4,617.9h0M595.6,618.2h0M593.8,618.5h0M600.9,619.2h0M590.5,619.3h0M596.0,619.4h0M592.8,620.1h0M596.8,620.6h0M594.9,620.7h0M594.8,620.8h0M592.7,620.3h0M600.1,620.6h0M598.2,621.6h0M590.7,621.3h0M595.0,621.6h0M591.4,622.4h0M599.2,622.5h0M599.8,622.2h0M600.9,622.6h0M591.3,623.1h0M589.7,623.6h0M591.3,623.1h0M589.9,623.0h0M589.3,624.4h0M590.2,624.9h0M599.5,624.6h0M599.0,624.6h0M590.0,625.9h0M590.2,625.9h0M600.2,625.2h0M589.6,626.8h0M600.8,626.2h0M600.2,626.0h0M591.1,627.9h0M599.3,627.7h0M600.7,627.4h0M590.4,628.1h0M589.5,628.1h0M589.8,628.2h0M589.8,628.7h0M599.3,628.8h0M590.8,629.9h0M589.4,629.8h0M591.1,629.6h0M599.6,629.6h0M599.9,629.7h0M590.0,632.7h0M599.9,632.8h0M599.0,632.7h0M600.2,632.0h0M591.1,633.6h0M590.0,633.2h0M589.3,633.7h0M600.5,633.8h0M600.4,634.0h0M589.3,634.0h0M591.1,634.5h0M600.4,634.4h0M600.4,634.7h0M599.4,634.8h0M600.8,634.2h0M599.7,634.7h0M590.0,635.3h0M589.4,635.7h0M590.3,635.6h0M600.2,635.4h0M599.6,635.6h0M600.4,635.7h0M600.0,635.1h0M599.6,635.5h0M589.8,636.7h0M589.6,636.8h0M599.7,636.9h0M600.4,636.2h0M599.4,636.2h0M600.0,636.9h0M591.4,637.5h0M589.8,637.1h0M600.0,637.4h0M590.1,638.8h0M591.0,638.7h0M600.3,638.7h0M589.5,640.0h0M589.9,639.4h0M590.1,639.8h0M589.2,639.5h0M590.2,639.1h0M590.2,639.9h0M590.9,640.3h0M589.5,640.4h0M599.9,640.1h0M600.4,640.9h0M601.1,640.8h0M590.6,641.9h0M589.3,642.0h0M599.8,642.5h0M599.0,643.0h0M590.8,643.3h0M590.1,643.1h0M589.5,643.5h0M591.0,643.8h0M600.5,643.2h0M589.8,644.7h0M590.3,644.4h0M591.0,644.0h0M599.8,644.0h0M600.3,644.6h0M600.6,644.7h0M600.0,644.7h0M599.3,644.3h0M591.0,645.8h0M599.4,645.1h0M599.9,645.1h0M599.6,645.5h0M590.1,646.7h0M600.4,646.1h0M599.6,646.4h0M590.6,647.8h0M591.2,647.1h0M591.4,648.7h0M589.2,648.7h0M599.7,648.7h0M589.3,649.2h0M590.0,649.3h0M589.7,650.4h0M590.6,650.1h0M600.3,651.0h0M590.6,651.4h0M590.0,651.8h0M590.4,651.6h0M599.5,651.9h0M600.8,651.3h0M599.1,651.7h0M591.0,652.9h0M590.3,652.4h0M590.3,652.1h0M590.5,653.2h0M591.0,653.4h0M589.8,654.8h0M590.2,654.2h0M590.0,654.3h0M590.7,654.8h0M600.6,655.0h0M599.3,654.7h0M599.5,654.6h0M600.5,654.6h0M589.9,655.8h0M600.7,655.8h0M590.7,656.7h0M590.2,656.8h0M591.2,656.5h0M600.8,656.4h0M600.2,656.8h0M599.7,656.5h0M589.4,657.9h0M590.8,657.3h0M589.5,657.1h0M600.7,657.8h0M600.8,657.2h0M589.9,658.6h0M589.9,658.7h0M589.7,658.6h0M599.4,658.6h0M590.0,659.0h0M589.8,659.8h0M589.9,659.8h0M600.4,659.5h0M590.1,660.0h0M591.0,660.1h0M590.0,660.8h0M599.1,660.0h0M601.1,660.7h0M590.6,661.8h0M590.3,661.7h0M590.2,661.1h0M591.1,661.2h0M600.4,661.4h0M590.2,662.0h0M600.9,662.1h0M590.5,663.6h0M591.4,663.3h0M591.2,664.0h0M591.3,663.6h0M590.6,664.0h0M600.7,663.5h0M599.6,663.2h0M589.3,664.4h0M591.0,665.0h0M600.3,664.7h0M600.5,664.3h0M600.2,664.9h0M590.0,665.6h0M600.3,665.5h0M600.9,665.1h0M600.9,665.1h0M601.0,665.4h0M600.9,666.0h0M590.7,666.7h0M599.6,666.6h0M599.8,666.9h0M590.1,667.9h0M590.5,668.9h0M590.4,668.0h0M590.7,669.3h0M600.4,669.6h0M600.1,669.8h0M600.3,669.9h0M600.7,669.7h0M589.8,670.9h0M589.3,671.0h0M590.4,670.6h0M589.6,670.7h0M589.5,670.8h0M599.5,670.6h0M590.3,671.7h0M590.9,671.9h0M599.3,671.9h0M589.3,672.4h0M589.5,672.1h0M600.2,672.0h0M601.0,672.9h0M599.7,672.6h0M599.2,672.7h0M591.0,673.4h0M591.1,673.8h0M591.2,673.1h0M599.3,674.0h0M600.1,673.5h0M599.9,673.9h0M599.3,674.1h0M600.9,674.7h0M590.0,675.0h0M589.8,675.2h0M599.2,675.4h0M600.8,675.9h0M591.3,676.3h0M591.2,676.3h0M590.9,676.6h0M590.9,676.2h0M599.7,676.1h0M599.8,676.7h0M589.5,677.7h0M599.8,677.8h0M599.6,677.5h0M600.6,677.7h0M590.9,679.0h0M590.0,678.4h0M589.8,679.9h0M599.5,679.4h0M600.7,679.2h0M591.1,680.9h0M599.3,680.8h0M589.9,681.4h0M589.6,681.0h0M599.3,681.8h0M601.1,681.2h0M599.6,681.1h0M590.9,683.6h0M600.8,683.7h0M600.0,683.4h0M600.0,683.2h0M591.4,684.8h0M599.7,685.0h0M599.5,684.2h0M601.1,684.9h0M599.6,684.6h0M589.5,685.3h0M591.4,685.7h0M601.2,685.1h0M600.8,685.5h0M589.9,686.0h0M590.7,686.4h0M591.2,686.3h0M591.1,686.4h0M600.8,686.1h0M600.4,686.7h0M600.2,686.8h0M590.5,687.2h0M589.4,687.1h0M589.6,687.6h0M600.3,688.0h0M589.8,688.3h0M599.3,688.1h0M600.1,688.8h0M601.0,689.0h0M590.2,689.7h0M590.2,689.9h0M589.6,690.0h0M590.6,689.6h0M600.7,689.8h0M600.5,689.1h0M590.6,690.8h0M590.3,690.9h0M591.0,690.9h0M600.8,690.1h0M589.4,691.4h0M589.6,691.5h0M590.2,691.9h0M600.4,691.7h0M600.2,691.1h0M589.4,692.8h0M590.6,692.3h0M590.1,692.3h0M600.1,692.3h0M601.0,692.2h0M600.6,692.4h0M600.1,692.8h0M590.3,693.1h0M591.2,693.4h0M599.4,693.5h0M600.9,693.1h0M600.1,693.6h0M591.0,694.7h0M601.1,694.8h0M591.4,695.9h0M600.2,695.1h0M590.7,696.6h0M600.4,696.6h0M599.5,696.7h0M600.9,696.3h0M589.3,697.5h0M589.9,697.5h0M590.5,697.2h0M589.4,697.7h0M601.0,698.0h0M599.6,697.2h0M600.3,697.2h0M590.0,698.7h0M589.7,698.3h0M590.5,698.3h0M591.1,698.5h0M591.2,698.6h0M600.4,698.9h0M599.7,698.8h0M590.9,699.4h0M600.4,699.7h0M589.6,700.0h0M591.2,700.7h0M590.8,700.4h0M591.3,701.8h0M589.2,701.3h0M599.3,701.7h0M600.3,701.7h0M600.7,701.9h0M599.3,702.8h0M599.7,702.4h0M589.2,703.3h0M590.7,703.5h0M600.8,703.1h0M591.2,704.7h0M601.0,704.1h0M600.0,704.6h0M590.3,705.6h0M589.3,705.3h0M601.1,705.9h0M600.9,705.4h0M599.4,705.0h0M599.3,705.7h0M590.3,706.8h0M600.1,706.8h0M590.9,707.7h0M590.4,707.4h0M590.6,707.8h0M600.7,707.8h0M591.3,708.0h0M589.6,708.9h0M601.2,708.9h0M599.4,708.5h0M600.6,708.8h0M589.6,709.4h0M590.4,710.2h0M589.8,710.2h0M591.3,710.1h0M599.2,710.5h0M600.0,710.9h0M601.2,710.7h0M599.5,710.7h0M589.9,711.8h0M591.2,711.3h0M600.4,711.6h0M599.6,711.3h0M600.8,711.8h0M590.8,712.4h0M591.5,712.6h0M590.4,712.4h0M600.6,714.0h0M597.5,713.2h0M598.3,713.8h0M597.1,713.8h0M592.2,713.8h0M592.3,714.9h0M589.9,714.5h0M595.0,714.1h0M593.5,715.3h0M596.9,717.0h0M597.6,717.3h0M593.1,719.9h0M589.8,719.9h0M599.8,720.2h0M590.5,720.6h0M594.9,720.5h0M596.5,721.0h0M592.5,721.3h0M595.3,722.7h0M591.2,723.2h0M595.8,723.5h0M591.7,725.6h0M589.3,727.5h0M608.4,605.9h0M613.4,605.1h0M603.5,607.2h0M612.2,608.6h0M612.8,609.7h0M603.8,610.5h0M608.7,610.9h0M606.2,611.0h0M608.3,611.2h0M605.4,612.6h0M610.2,613.9h0M613.5,613.1h0M607.2,613.7h0M614.9,614.5h0M607.5,614.1h0M614.6,614.7h0M604.2,614.2h0M614.4,614.1h0M610.2,615.5h0M610.6,615.2h0M607.3,615.7h0M610.1,615.1h0M613.7,615.4h0M606.3,615.1h0M609.6,616.7h0M614.6,616.7h0M604.6,616.5h0M614.2,616.3h0M604.4,616.1h0M609.0,617.5h0M604.6,618.0h0M610.8,617.6h0M613.2,617.0h0M610.3,617.4h0M611.0,617.9h0M614.1,618.8h0M604.4,619.4h0M603.5,619.9h0M614.0,619.3h0M613.9,619.0h0M604.5,620.3h0M605.5,621.0h0M603.8,620.6h0M603.5,620.5h0M605.5,620.1h0M614.0,620.8h0M613.4,620.6h0M614.5,620.6h0M613.6,620.8h0M603.6,621.6h0M604.2,621.7h0M613.4,621.3h0M613.9,621.1h0M605.1,622.2h0M604.7,622.4h0M614.9,622.5h0M604.4,623.1h0M604.8,623.3h0M615.3,623.3h0M614.7,624.0h0M603.4,624.1h0M604.9,624.1h0M615.1,624.8h0M613.4,624.1h0M613.2,624.8h0M603.8,625.9h0M605.2,625.2h0M613.6,625.7h0M615.1,625.7h0M604.4,627.7h0M615.1,627.5h0M615.2,627.8h0M605.1,628.6h0M613.5,628.7h0M614.5,628.4h0M615.1,628.3h0M613.7,628.6h0M613.3,628.3h0M614.8,628.7h0M613.2,628.4h0M603.8,629.9h0M613.9,629.9h0M614.5,629.6h0M613.7,629.1h0M603.7,630.2h0M605.0,630.5h0M613.9,630.5h0M615.1,630.5h0M604.7,631.7h0M604.4,631.4h0M604.9,631.5h0M614.5,631.9h0M615.0,631.5h0M613.9,631.1h0M604.6,632.1h0M614.1,632.9h0M614.3,632.6h0M614.4,632.7h0M604.4,633.9h0M605.5,633.1h0M604.8,633.0h0M603.5,633.4h0M603.5,633.7h0M614.8,633.3h0M615.3,633.7h0M613.9,633.4h0M603.4,634.2h0M604.3,634.3h0M615.2,634.7h0M604.3,635.8h0M603.6,635.8h0M604.1,635.2h0M614.9,635.3h0M615.2,635.4h0M614.3,635.5h0M614.5,635.2h0M603.4,636.7h0M614.8,636.6h0M604.2,637.9h0M605.0,637.1h0M613.7,637.2h0M605.2,638.7h0M615.3,638.4h0M613.3,638.0h0M614.9,638.5h0M614.6,639.3h0M614.8,639.8h0M604.8,640.7h0M605.1,640.1h0M603.7,640.3h0M614.6,640.1h0M613.5,640.7h0M605.3,641.0h0M605.1,641.8h0M613.2,641.9h0M614.7,642.0h0M614.1,641.5h0M605.1,642.4h0M604.5,642.5h0M605.2,642.6h0M614.1,642.6h0M615.1,642.2h0M613.4,643.1h0M614.5,643.2h0M604.4,644.3h0M604.2,644.1h0M613.8,644.8h0M614.4,644.2h0M614.1,644.5h0M615.0,644.7h0M603.8,645.1h0M605.3,645.7h0M614.6,645.8h0M603.4,646.1h0M603.3,646.2h0M605.0,646.5h0M613.7,646.1h0M604.1,647.6h0M604.2,647.8h0M604.8,647.9h0M605.1,647.8h0M613.5,648.6h0M615.1,648.5h0M613.4,648.8h0M613.2,649.9h0M614.5,649.6h0M615.1,649.8h0M615.0,651.0h0M614.8,650.5h0M605.1,651.2h0M613.5,651.3h0M613.9,652.0h0M603.8,653.0h0M603.8,652.0h0M604.5,652.5h0M614.7,652.8h0M605.4,653.3h0M604.6,653.8h0M613.7,653.1h0M614.7,653.2h0M613.3,654.1h0M614.6,654.8h0M613.3,654.8h0M613.8,654.3h0M604.9,655.1h0M604.2,655.1h0M604.1,655.6h0M603.9,655.0h0M604.2,655.8h0M614.1,655.3h0M615.1,655.8h0M603.9,656.2h0M604.3,656.6h0M605.2,657.0h0M604.9,656.6h0M613.4,656.2h0M614.4,656.2h0M604.0,657.0h0M605.3,657.9h0M614.7,657.6h0M614.8,657.9h0M604.3,658.4h0M613.2,658.6h0M614.3,658.4h0M604.2,659.1h0M614.8,659.7h0M614.9,659.0h0M613.4,659.0h0M604.2,660.9h0M604.6,660.1h0M604.5,660.3h0M615.2,660.3h0M613.7,660.6h0M603.5,661.7h0M603.5,661.9h0M614.4,661.9h0M613.6,661.4h0M603.8,662.4h0M604.3,662.2h0M614.1,662.6h0M613.3,662.7h0M603.6,663.4h0M605.3,663.1h0M603.8,664.0h0M604.9,663.5h0M603.7,663.0h0M613.4,663.5h0M604.9,664.7h0M605.3,664.5h0M603.6,665.0h0M605.2,665.9h0M613.7,665.6h0M615.0,665.7h0M604.2,666.6h0M603.6,666.9h0M614.9,667.0h0M614.7,667.0h0M605.0,667.7h0M604.6,667.8h0M604.3,667.4h0M614.9,667.2h0M613.5,668.0h0M613.2,667.6h0M604.0,668.9h0M614.3,668.8h0M604.7,669.8h0M614.1,669.4h0M614.3,669.7h0M615.0,669.8h0M613.7,669.2h0M614.5,669.8h0M605.5,670.4h0M604.2,670.2h0M605.0,670.1h0M605.0,670.5h0M613.3,670.9h0M613.5,670.6h0M614.7,670.0h0M613.5,670.7h0M603.3,671.1h0M605.5,671.2h0M605.5,671.0h0M614.1,671.6h0M613.5,671.8h0M613.5,671.1h0M604.2,672.5h0M604.6,672.9h0M603.4,672.6h0M604.4,672.1h0M615.1,672.5h0M613.2,672.8h0M603.6,673.6h0M603.5,673.9h0M604.4,673.7h0M614.7,673.7h0M614.6,674.0h0M614.6,673.7h0M615.0,673.5h0M613.5,673.9h0M613.5,674.0h0M613.8,675.0h0M614.0,675.3h0M604.0,676.1h0M604.2,676.1h0M604.7,677.7h0M604.1,677.3h0M614.1,677.4h0M614.2,677.8h0M604.4,678.3h0M613.3,678.9h0M614.9,679.5h0M613.5,679.2h0M604.6,680.3h0M604.6,680.7h0M604.9,680.4h0M604.9,680.3h0M603.6,681.0h0M605.3,680.4h0M604.5,680.0h0M615.0,680.6h0M613.8,681.0h0M613.8,680.6h0M604.7,681.1h0M604.0,681.2h0M604.2,682.1h0M605.2,682.0h0M614.4,683.7h0M613.2,683.9h0M614.5,683.7h0M613.9,684.3h0M613.6,684.1h0M604.4,685.8h0M605.0,685.9h0M603.3,685.0h0M604.3,685.7h0M604.2,685.4h0M603.3,685.6h0M605.4,685.6h0M614.5,685.1h0M613.7,685.0h0M605.0,686.3h0M614.8,686.7h0M613.3,686.1h0M605.0,687.7h0M604.9,687.5h0M603.9,687.4h0M603.6,687.1h0M614.1,687.8h0M615.1,687.4h0M604.5,688.0h0M604.0,688.4h0M603.9,688.4h0M614.4,688.2h0M614.4,688.7h0M614.7,689.1h0M613.6,689.6h0M605.2,690.7h0M614.1,690.1h0M603.4,691.4h0M604.2,691.7h0M613.4,691.2h0M603.7,692.9h0M604.1,692.7h0M614.1,692.5h0M613.3,692.4h0M615.0,692.4h0M603.4,694.0h0M613.8,693.2h0M614.3,693.2h0M613.3,693.4h0M604.6,694.3h0M604.6,695.6h0M614.4,696.0h0M605.1,696.1h0M614.7,697.0h0M614.8,696.8h0M613.8,696.5h0M614.5,696.1h0M603.9,697.7h0M605.0,697.0h0M605.1,697.8h0M604.7,697.9h0M615.1,698.0h0M613.7,697.4h0M614.6,698.0h0M614.8,697.8h0M603.9,698.1h0M604.2,698.1h0M605.3,698.8h0M614.8,698.6h0M604.5,699.7h0M603.9,699.3h0M604.2,699.2h0M605.2,699.4h0M603.4,699.6h0M613.9,699.5h0M613.6,699.7h0M614.1,699.3h0M613.6,699.9h0M614.5,701.5h0M614.0,701.8h0M613.4,701.3h0M613.4,701.1h0M614.8,701.4h0M613.5,702.7h0M604.2,703.8h0M613.6,703.8h0M603.4,704.9h0M614.3,704.3h0M615.1,704.3h0M603.5,705.6h0M605.1,705.3h0M615.0,705.6h0M613.5,706.7h0M613.6,706.7h0M604.7,707.8h0M603.9,707.9h0M613.2,707.7h0M615.1,707.3h0M605.1,708.8h0M606.2,708.5h0M611.5,708.6h0M612.5,708.6h0M614.9,709.6h0M615.0,709.9h0M603.7,709.1h0M604.4,710.7h0M607.3,710.1h0M607.7,710.9h0M612.2,710.4h0M613.2,710.6h0M607.4,710.1h0M611.5,710.2h0M609.4,710.2h0M606.6,711.6h0M609.3,712.9h0M605.4,712.8h0M604.7,712.8h0M611.3,714.3h0M604.5,715.8h0M608.2,715.5h0M613.4,715.7h0M604.3,716.1h0M609.5,718.6h0M614.6,719.0h0M608.5,719.8h0M613.3,719.2h0M604.8,720.4h0M607.9,721.6h0M611.1,725.2h0M621.9,610.8h0M626.4,610.3h0M627.5,611.1h0M621.9,612.3h0M624.4,612.3h0M625.5,612.7h0M620.4,613.5h0M623.7,613.3h0M622.4,614.3h0M622.7,615.1h0M621.7,615.7h0M619.7,616.3h0M624.8,616.7h0M625.9,616.5h0M618.0,616.6h0M621.9,617.5h0M624.9,617.8h0M622.6,619.0h0M619.8,619.5h0M626.5,619.3h0M628.7,619.3h0M629.1,619.6h0M621.0,620.6h0M628.8,620.7h0M620.2,620.8h0M628.0,620.7h0M626.1,620.7h0M624.2,620.4h0M626.0,620.4h0M619.5,620.9h0M619.2,621.4h0M619.9,621.7h0M628.7,621.3h0M620.5,621.5h0M618.8,621.1h0M618.1,622.7h0M623.9,622.9h0M625.3,622.2h0M623.2,622.4h0M618.8,622.1h0M625.9,622.7h0M626.3,623.4h0M626.5,623.4h0M624.6,623.7h0M625.6,624.1h0M619.7,624.5h0M628.5,625.0h0M620.8,625.7h0M624.8,625.9h0M621.2,625.4h0M626.2,625.3h0M618.0,626.7h0M621.5,626.3h0M626.0,626.4h0M620.7,626.9h0M626.9,626.8h0M621.3,627.0h0M623.5,626.3h0M628.1,627.3h0M621.4,627.1h0M623.4,627.2h0M618.1,628.0h0M619.1,627.4h0M623.3,628.7h0M621.1,628.8h0M625.0,628.8h0M626.3,628.4h0M618.8,628.2h0M623.3,629.0h0M619.9,628.8h0M620.5,628.6h0M626.5,629.8h0M622.9,629.3h0M624.7,629.8h0M622.9,629.6h0M626.4,629.9h0M618.4,629.7h0M618.2,629.3h0M619.5,630.5h0M624.4,630.4h0M628.8,630.3h0M619.6,630.5h0M620.1,630.6h0M620.9,630.4h0M625.6,630.7h0M618.0,630.6h0M624.2,630.4h0M617.6,631.1h0M618.0,631.4h0M622.2,632.0h0M627.6,631.8h0M626.2,631.2h0M619.3,631.8h0M626.5,631.0h0M622.4,631.3h0M626.6,632.1h0M620.9,632.9h0M621.1,632.0h0M618.9,633.0h0M622.3,632.4h0M628.3,632.8h0M620.4,632.1h0M628.1,632.4h0M622.9,632.2h0M623.5,633.8h0M620.5,633.6h0M619.7,633.3h0M625.1,633.3h0M620.0,633.3h0M618.1,634.2h0M626.9,634.2h0M622.4,635.0h0M620.2,634.1h0M620.7,634.5h0M629.3,635.5h0M625.5,635.3h0M623.1,635.8h0M628.2,636.7h0M620.3,636.3h0M626.2,636.4h0M628.5,637.7h0M627.9,637.6h0M618.6,637.4h0M629.2,637.1h0M623.8,637.5h0M622.6,637.3h0M626.4,638.9h0M620.0,638.1h0M622.0,638.1h0M619.4,639.5h0M625.7,639.8h0M619.4,639.5h0M618.3,639.6h0M627.8,639.3h0M625.5,639.6h0M625.4,639.2h0M623.5,639.1h0M622.3,639.1h0M626.3,640.3h0M619.2,640.7h0M623.4,641.0h0M624.0,640.9h0M617.9,640.0h0M621.6,640.8h0M623.1,640.6h0M621.8,640.3h0M625.5,641.3h0M628.4,641.6h0M620.4,642.6h0M622.6,642.4h0M627.8,642.5h0M625.4,643.7h0M624.6,643.7h0M626.4,643.6h0M623.1,644.2h0M625.8,644.7h0M627.9,645.1h0M619.8,645.8h0M618.0,645.1h0M621.9,645.2h0M617.9,645.8h0M624.3,646.1h0M623.1,646.5h0M624.6,646.9h0M620.6,647.5h0M625.0,647.4h0M627.0,647.4h0M628.6,647.9h0M617.9,647.6h0M627.7,647.1h0M626.3,647.6h0M623.6,647.3h0M619.1,648.4h0M626.6,648.6h0M626.0,648.8h0M620.9,648.3h0M627.7,648.4h0M624.8,649.5h0M622.3,649.3h0M621.9,649.8h0M623.1,649.2h0M618.8,651.0h0M624.1,650.3h0M618.0,650.5h0M621.3,650.2h0M625.1,650.2h0M628.8,650.2h0M628.1,650.4h0M621.9,651.8h0M624.8,651.1h0M628.0,651.6h0M620.7,651.0h0M617.9,651.1h0M620.5,651.5h0M623.9,652.2h0M621.3,652.5h0M625.0,652.3h0M626.1,652.4h0M628.4,652.1h0M619.7,653.7h0M626.7,653.8h0M628.3,653.4h0M625.1,654.0h0M627.6,654.4h0M626.5,654.1h0M623.3,654.6h0M629.1,655.7h0M626.7,655.0h0M622.1,655.7h0M619.4,655.8h0M628.5,655.8h0M626.1,655.3h0M618.9,655.9h0M622.5,655.9h0M625.4,655.9h0M619.8,656.9h0M622.1,656.8h0M629.1,656.2h0M618.2,656.0h0M620.4,657.1h0M619.3,657.1h0M617.8,657.5h0M621.5,657.4h0M620.4,658.3h0M622.0,658.2h0M624.9,658.2h0M628.3,658.9h0M625.8,659.5h0M622.0,659.1h0M627.8,659.7h0M618.2,659.8h0M620.8,659.9h0M619.2,659.0h0M627.7,659.9h0M629.1,660.9h0M625.7,660.3h0M626.0,660.0h0M625.5,661.3h0M627.2,661.9h0M620.0,661.4h0M627.4,661.5h0M620.0,662.5h0M626.4,662.9h0M629.2,662.4h0M629.0,662.4h0M619.6,662.9h0M618.7,662.5h0M626.7,662.6h0M627.6,662.5h0M622.7,662.3h0M624.9,662.6h0M623.5,662.7h0M627.9,663.6h0M628.7,663.6h0M628.6,663.7h0M628.1,663.3h0M629.3,663.3h0M626.4,663.6h0M617.5,664.6h0M624.1,664.1h0M624.4,665.8h0M624.3,666.3h0M622.2,666.1h0M625.7,666.9h0M626.3,666.1h0M627.2,667.2h0M618.3,667.4h0M617.8,667.5h0M622.6,667.3h0M628.7,668.2h0M622.2,668.3h0M627.1,668.7h0M628.3,668.3h0M627.3,668.7h0M618.8,668.3h0M625.2,669.1h0M619.3,669.9h0M620.6,669.7h0M627.4,669.7h0M617.5,670.7h0M623.1,670.6h0M625.4,670.5h0M619.0,670.6h0M620.9,670.5h0M617.7,671.0h0M623.3,671.1h0M619.5,671.1h0M624.0,671.7h0M628.9,671.2h0M627.5,671.6h0M617.6,671.4h0M624.2,672.2h0M628.6,673.0h0M624.2,672.6h0M619.0,672.8h0M622.5,672.8h0M622.5,672.8h0M618.9,673.0h0M621.4,673.5h0M622.4,673.4h0M623.6,673.7h0M626.0,673.0h0M628.7,673.4h0M622.7,673.5h0M623.8,674.7h0M622.8,674.9h0M624.2,674.5h0M628.3,674.0h0M628.2,674.5h0M629.0,675.7h0M622.8,675.7h0M625.3,675.1h0M622.0,675.2h0M619.6,676.2h0M623.9,676.4h0M626.2,677.4h0M619.8,677.3h0M627.3,677.4h0M627.9,678.0h0M628.7,677.5h0M624.2,677.6h0M625.0,679.0h0M621.7,678.9h0M618.2,678.5h0M621.0,678.9h0M626.2,679.3h0M626.2,679.2h0M622.8,679.9h0M623.8,680.4h0M624.6,680.0h0M627.2,680.4h0M626.5,681.1h0M628.8,681.2h0M624.7,681.1h0M628.3,682.1h0M620.7,683.0h0M627.7,682.0h0M618.6,682.6h0M627.4,683.0h0M619.0,682.5h0M623.6,682.9h0M623.4,683.1h0M623.6,683.6h0M625.7,684.0h0M623.4,684.2h0M617.8,685.9h0M626.1,685.4h0M620.5,686.0h0M620.0,685.3h0M628.7,685.8h0M627.6,685.9h0M628.9,685.4h0M628.1,686.5h0M621.5,686.2h0M627.4,686.6h0M620.0,686.8h0M620.9,687.8h0M618.3,688.4h0M621.3,688.5h0M617.5,688.9h0M623.2,688.2h0M625.1,688.6h0M625.9,689.0h0M622.7,688.0h0M623.2,689.6h0M623.7,689.1h0M625.7,693.0h0M624.8,692.2h0M626.1,692.2h0M619.7,693.2h0M621.9,693.9h0M620.0,694.9h0M621.9,694.3h0M628.7,694.2h0M621.4,695.3h0M620.6,695.3h0M622.1,696.8h0M626.4,696.1h0M624.9,697.1h0M625.6,698.6h0M627.8,699.2h0M617.4,699.8h0M628.3,699.1h0M628.4,700.5h0M623.9,701.1h0M619.5,701.5h0M620.2,702.5h0M618.2,702.1h0M623.9,704.6h0M624.8,704.7h0M624.5,705.6h0M619.9,706.6h0M626.5,707.5h0M626.2,708.7h0M623.0,708.3h0M622.2,709.5h0M617.7,710.9h0M628.0,711.0h0M626.9,710.9h0M618.8,711.6h0M623.5,712.9h0M623.6,714.5h0M621.5,715.1h0M642.8,612.9h0M637.0,616.4h0M633.9,617.8h0M643.2,618.6h0M635.6,619.5h0M639.4,621.6h0M632.9,622.5h0M638.0,622.5h0M639.0,623.3h0M636.2,624.0h0M643.2,626.9h0M640.8,626.5h0M642.5,628.5h0M634.6,628.0h0M634.4,628.7h0M633.1,629.0h0M633.4,630.2h0M643.1,630.3h0M638.0,630.8h0M637.2,631.5h0M643.1,632.5h0M631.8,633.6h0M642.4,633.9h0M642.1,634.1h0M640.9,636.8h0M632.9,637.1h0M635.2,637.3h0M643.4,637.9h0M637.8,639.9h0M642.5,639.2h0M635.1,640.9h0M633.7,640.2h0M632.2,641.9h0M635.3,641.9h0M639.6,641.8h0M641.3,642.7h0M633.2,643.3h0M633.3,643.0h0M639.4,644.0h0M639.0,644.0h0M641.4,643.6h0M643.0,644.9h0M640.5,645.5h0M634.8,646.3h0M635.4,646.3h0M634.1,649.0h0M642.0,648.9h0M641.1,650.4h0M638.3,652.7h0M636.6,652.4h0M634.7,652.6h0M642.5,654.5h0M638.3,657.5h0M636.8,657.7h0M638.7,658.2h0M633.7,658.3h0M632.1,659.5h0M640.8,663.0h0M641.7,662.1h0M636.8,663.2h0M637.1,665.5h0M633.4,665.7h0M643.5,666.7h0M643.3,667.0h0M633.8,666.4h0M632.7,667.4h0M639.8,668.6h0M631.7,668.4h0M643.1,670.0h0M637.3,670.9h0M632.6,670.5h0M636.7,671.6h0M633.2,672.7h0M641.4,673.3h0M634.1,673.6h0M641.7,675.1h0M631.7,675.9h0M640.1,676.6h0M638.8,678.2h0M635.1,686.4h0M632.7,687.6h0M632.5,687.8h0M638.0,689.1h0M640.7,692.4h0M642.7,692.2h0M642.4,692.0h0M640.6,693.2h0M635.1,695.6h0M633.6,696.1h0M640.4,697.1h0M639.1,699.4h0M636.0,705.5h0M641.5,707.0h0M641.4,712.8h0M548.3,598.9h0M550.5,602.0h0M554.5,603.5h0M562.6,596.7h0M564.5,601.6h0M551.0,611.0h0M558.5,612.0h0M553.8,620.5h0M563.7,610.0h0M566.0,613.0h0M581.3,604.5h0M579.7,608.0h0M591.9,599.4h0M594.0,606.4h0M606.8,588.5h0M612.7,592.5h0M617.4,597.3h0M620.4,599.8h0M624.4,582.8h0M626.8,602.5h0M623.3,605.6h0M604.7,602.3h0M610.4,603.0h0M609.8,610.7h0M603.5,605.4h0M614.3,608.6h0M636.6,607.5h0M628.4,616.0h0M647.3,627.4h0M649.9,630.0h0M651.4,632.0h0M649.0,633.0h0M653.4,635.5h0M647.5,643.5h0M649.9,641.5h0M653.7,644.8h0M653.4,653.5h0M649.5,654.5h0M646.0,660.2h0M650.0,659.4h0M648.5,665.6h0M652.0,668.5h0M655.8,666.0h0M650.4,677.3h0M654.0,675.6h0M647.2,681.6h0M654.1,682.4h0M666.6,607.0h0M662.6,625.6h0M664.6,628.0h0M666.0,631.0h0M669.0,633.0h0M662.5,634.5h0M663.9,645.5h0M663.0,653.6h0M661.5,678.8h0M669.8,690.0h0M636.3,607.7h0M639.5,609.0h0M640.0,619.2h0M640.6,624.0h0M641.8,626.0h0M639.3,628.5h0M637.0,632.0h0M641.8,631.5h0M633.0,635.0h0M641.0,636.0h0M632.6,626.3h0M641.8,692.5h0M642.0,695.0h0M638.9,702.3h0M637.9,705.6h0M632.3,712.0h0" stroke="#000" stroke-width="3.1" stroke-linecap="round" fill="none"/>
<line x1="545.9" y1="745.4" x2="559.9" y2="745.4" stroke="#111" stroke-width="1.1"/>
<line x1="560" y1="745.4" x2="574" y2="745.4" stroke="#111" stroke-width="1.1"/>
<line x1="574.1" y1="745.4" x2="588.1" y2="745.4" stroke="#111" stroke-width="1.1"/>
<line x1="588.2" y1="745.4" x2="602.2" y2="745.4" stroke="#111" stroke-width="1.1"/>
<line x1="602.3" y1="745.4" x2="616.3" y2="745.4" stroke="#111" stroke-width="1.1"/>
<line x1="616.4" y1="745.4" x2="630.4" y2="745.4" stroke="#111" stroke-width="1.1"/>
<rect x="541.3" y="544.3" width="134.5" height="202" fill="none" stroke="#2b2b2b" stroke-width="1.1"/>
<line x1="541.3" y1="565.05" x2="675.8" y2="565.05" stroke="#0a0a0a" stroke-width="1.5"/>
<line x1="552.9" y1="746.3" x2="552.9" y2="750.7" stroke="#222222" stroke-width="1.1"/>
<line x1="581.1" y1="746.3" x2="581.1" y2="750.7" stroke="#222222" stroke-width="1.1"/>
<line x1="609.3" y1="746.3" x2="609.3" y2="750.7" stroke="#222222" stroke-width="1.1"/>
<line x1="637.5" y1="746.3" x2="637.5" y2="750.7" stroke="#222222" stroke-width="1.1"/>
<line x1="665.7" y1="746.3" x2="665.7" y2="750.7" stroke="#222222" stroke-width="1.1"/>
<text x="0" y="0" transform="translate(552.9,760.4) scale(1,1.1)" font-size="9" font-weight="bold" text-anchor="middle" fill="#000">0</text>
<text x="0" y="0" transform="translate(581.1,760.4) scale(1,1.1)" font-size="9" font-weight="bold" text-anchor="middle" fill="#000">2</text>
<text x="0" y="0" transform="translate(609.3,760.4) scale(1,1.1)" font-size="9" font-weight="bold" text-anchor="middle" fill="#000">4</text>
<text x="0" y="0" transform="translate(637.5,760.4) scale(1,1.1)" font-size="9" font-weight="bold" text-anchor="middle" fill="#000">6</text>
<text x="0" y="0" transform="translate(665.7,760.4) scale(1,1.1)" font-size="9" font-weight="bold" text-anchor="middle" fill="#000">8</text>
<line x1="419.1" y1="672.5" x2="524.7" y2="664.6" stroke="#3366ff" stroke-width="2.6"/>
<line x1="552.9" y1="680.5" x2="664.5" y2="647.6" stroke="#3366ff" stroke-width="2.6"/>
<line x1="400.5" y1="573.2" x2="404.5" y2="573.2" stroke="#222222" stroke-width="1.1"/>
<text x="0" y="0" transform="translate(397.2,577.08) scale(1,1.1)" font-size="9.2" font-weight="bold" text-anchor="end" fill="#000">1e−05</text>
<line x1="400.5" y1="628.2" x2="404.5" y2="628.2" stroke="#222222" stroke-width="1.1"/>
<text x="0" y="0" transform="translate(397.2,632.08) scale(1,1.1)" font-size="9.2" font-weight="bold" text-anchor="end" fill="#000">1e−06</text>
<line x1="400.5" y1="683.2" x2="404.5" y2="683.2" stroke="#222222" stroke-width="1.1"/>
<text x="0" y="0" transform="translate(397.2,687.08) scale(1,1.1)" font-size="9.2" font-weight="bold" text-anchor="end" fill="#000">1e−07</text>
<line x1="400.5" y1="738.2" x2="404.5" y2="738.2" stroke="#222222" stroke-width="1.1"/>
<text x="0" y="0" transform="translate(397.2,742.08) scale(1,1.1)" font-size="9.2" font-weight="bold" text-anchor="end" fill="#000">1e−08</text>
<text x="0" y="0" transform="translate(363.2,655.9) rotate(-90) scale(1,1.1)" font-size="9.6" font-weight="bold" text-anchor="middle" fill="#000">Between donor co−incidence</text>
<text x="0" y="0" transform="translate(540,775.3) scale(1,1.1)" font-size="9.6" font-weight="bold" text-anchor="middle" fill="#000">HLA overlap</text>
</svg>
</body></html>
